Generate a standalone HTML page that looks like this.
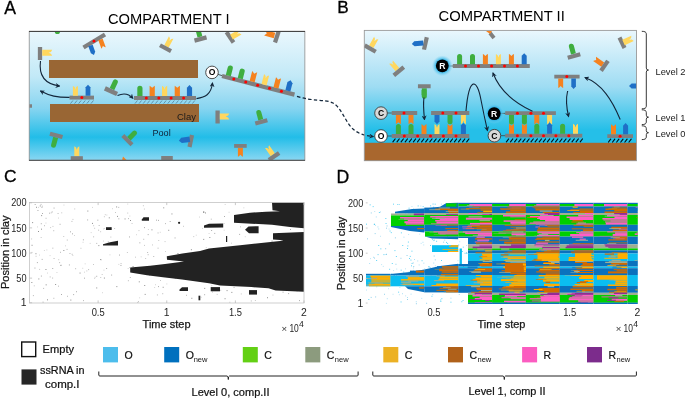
<!DOCTYPE html>
<html><head><meta charset="utf-8"><style>
html,body{margin:0;padding:0;background:#fff;width:685px;height:398px;overflow:hidden}
svg{display:block;will-change:transform}
text{font-family:"Liberation Sans", sans-serif}
</style></head><body>
<svg width="685" height="398" viewBox="0 0 685 398">
<defs>
<linearGradient id="gA" x1="0" y1="0" x2="0" y2="1">
<stop offset="0" stop-color="#eaf7fd"/>
<stop offset="0.35" stop-color="#c2e9f7"/>
<stop offset="0.6" stop-color="#86d4f0"/>
<stop offset="0.82" stop-color="#22bde8"/>
<stop offset="1" stop-color="#8ad7f2"/>
</linearGradient>
<linearGradient id="gB" x1="0" y1="0" x2="0" y2="1">
<stop offset="0" stop-color="#eaf7fd"/>
<stop offset="0.5" stop-color="#9edcf3"/>
<stop offset="0.88" stop-color="#25bfe8"/>
<stop offset="1" stop-color="#25bfe8"/>
</linearGradient>
<radialGradient id="glow">
<stop offset="0.55" stop-color="#1aa8e0" stop-opacity="1"/>
<stop offset="0.75" stop-color="#4cc0ec" stop-opacity="0.6"/>
<stop offset="1" stop-color="#7fd4f2" stop-opacity="0"/>
</radialGradient>
<marker id="ah" viewBox="0 0 10 10" refX="8" refY="5" markerWidth="5" markerHeight="5" orient="auto" markerUnits="userSpaceOnUse">
<path d="M0,0 L10,5 L0,10 L3,5 Z" fill="#13263a"/>
</marker>
</defs>
<text x="4.2" y="13.8" font-size="17.6" text-anchor="start" fill="#000" font-weight="normal" stroke="#000" stroke-width="0.3">A</text>
<text x="108" y="24" font-size="15.5" text-anchor="start" fill="#000" font-weight="normal" textLength="121.5" lengthAdjust="spacingAndGlyphs" >COMPARTMENT I</text>
<clipPath id="clipA"><rect x="29" y="31" width="276" height="129"/></clipPath>
<rect x="29" y="31" width="276" height="129.5" fill="url(#gA)"/>
<g clip-path="url(#clipA)">
<rect x="49" y="60" width="149" height="18" fill="#996634"/>
<rect x="50" y="104" width="149" height="18" fill="#996634"/>
<text x="177" y="120" font-size="9.3" text-anchor="start" fill="#1a1a1a" font-weight="normal" textLength="19" lengthAdjust="spacingAndGlyphs" >Clay</text>
<text x="152.5" y="135.6" font-size="9" text-anchor="start" fill="#0f2338" font-weight="normal" textLength="18.2" lengthAdjust="spacingAndGlyphs" >Pool</text>
<circle cx="57.4" cy="31.5" r="2.6" fill="#3fae3f"/>
<line x1="40.00" y1="47.00" x2="40.00" y2="60.00" stroke="#7f7f7f" stroke-width="4.3"/>
<path d="M-3.0,0 V-10 L-0.8999999999999999,-8.8 L0,-6.4 L0.8999999999999999,-8.8 L3.0,-10 V0 Z" fill="#ffd75e" transform="translate(42.20,52.80) rotate(90)"/>
<line x1="83.50" y1="47.50" x2="105.00" y2="34.50" stroke="#7f7f7f" stroke-width="4.2"/>
<path d="M-2.3,0 V-7.4 L0,-10 L2.3,-7.4 V0 Z" fill="#1f6fc6" transform="translate(90.50,45.50) rotate(160)"/>
<path d="M-2.3,0 V-9 L-1.38,-8.4 L0,-7.0 L1.38,-8.4 L2.3,-9 V0 Z" fill="#f5821f" transform="translate(100.50,39.50) rotate(160)"/>
<circle cx="94.00" cy="41.20" r="1.4" fill="#ff0000"/>
<path d="M-2.5,0 V-10 L-0.75,-8.8 L0,-6.4 L0.75,-8.8 L2.5,-10 V0 Z" fill="#ffd75e" transform="translate(166.49,46.35) rotate(28)"/><line x1="159.98" y1="45.27" x2="171.02" y2="51.13" stroke="#7f7f7f" stroke-width="4.2"/>
<path d="M-2.5,0 V-7.5 A2.5,2.5 0 0 1 2.5,-7.5 V0 Z" fill="#3fae3f" transform="translate(199.96,36.97) rotate(-15)"/><line x1="194.46" y1="40.62" x2="206.54" y2="37.38" stroke="#7f7f7f" stroke-width="4.2"/>
<line x1="226.50" y1="32.00" x2="233.50" y2="42.50" stroke="#7f7f7f" stroke-width="4.2"/>
<path d="M-2.75,0 V-10 L-0.825,-8.8 L0,-6.4 L0.825,-8.8 L2.75,-10 V0 Z" fill="#ffd75e" transform="translate(231.50,37.00) rotate(60)"/>
<line x1="278.60" y1="31.50" x2="275.00" y2="42.50" stroke="#7f7f7f" stroke-width="4.2"/>
<path d="M-2.75,0 V-10 L-1.65,-9.4 L0,-8.0 L1.65,-9.4 L2.75,-10 V0 Z" fill="#f5821f" transform="translate(274.50,35.50) rotate(-75)"/>
<path d="M-2.5,0 V-8.0 A2.5,2.5 0 0 1 2.5,-8.0 V0 Z" fill="#3fae3f" transform="translate(111.95,89.16) rotate(25)"/><line x1="104.88" y1="88.35" x2="117.12" y2="94.05" stroke="#7f7f7f" stroke-width="4.5"/>
<path d="M-2.5,0 V-8.0 A2.5,2.5 0 0 1 2.5,-8.0 V0 Z" fill="#3fae3f" transform="translate(55.66,137.43) rotate(195)"/><line x1="62.48" y1="137.08" x2="49.92" y2="133.72" stroke="#7f7f7f" stroke-width="4.2"/>
<path d="M-2.5,0 V-10 L-0.75,-8.8 L0,-6.4 L0.75,-8.8 L2.5,-10 V0 Z" fill="#ffd75e" transform="translate(76.80,156.20) rotate(0)"/><line x1="70.70" y1="158.20" x2="82.90" y2="158.20" stroke="#7f7f7f" stroke-width="4.0"/>
<path d="M-2.5,0 V-8.0 A2.5,2.5 0 0 1 2.5,-8.0 V0 Z" fill="#3fae3f" transform="translate(128.88,138.72) rotate(45)"/><line x1="122.80" y1="135.60" x2="132.00" y2="144.80" stroke="#7f7f7f" stroke-width="4.2"/>
<line x1="192.00" y1="135.00" x2="189.50" y2="147.00" stroke="#7f7f7f" stroke-width="4.2"/>
<path d="M-2.75,0 V-8.4 L0,-11 L2.75,-8.4 V0 Z" fill="#1f6fc6" transform="translate(189.80,139.20) rotate(-98)"/>
<line x1="161.20" y1="158.00" x2="172.80" y2="158.00" stroke="#7f7f7f" stroke-width="4.0"/>
<path d="M122,160.5 L123,156.5 L127,160.5 Z" fill="#f5821f"/>
<line x1="217.60" y1="110.50" x2="217.60" y2="123.50" stroke="#7f7f7f" stroke-width="4.3"/>
<path d="M-3.0,0 V-9.5 L-0.8999999999999999,-8.3 L0,-5.9 L0.8999999999999999,-8.3 L3.0,-9.5 V0 Z" fill="#ffd75e" transform="translate(219.80,116.50) rotate(90)"/>
<path d="M-2.5,0 V-7.5 A2.5,2.5 0 0 1 2.5,-7.5 V0 Z" fill="#3fae3f" transform="translate(260.76,119.77) rotate(-15)"/><line x1="255.26" y1="123.42" x2="267.34" y2="120.18" stroke="#7f7f7f" stroke-width="4.2"/>
<path d="M-2.5,0 V-9 L-1.5,-8.4 L0,-7.0 L1.5,-8.4 L2.5,-9 V0 Z" fill="#f5821f" transform="translate(240.40,147.80) rotate(180)"/><line x1="246.70" y1="145.90" x2="234.10" y2="145.90" stroke="#7f7f7f" stroke-width="3.8"/>
<path d="M-2.5,0 V-10 L-0.75,-8.8 L0,-6.4 L0.75,-8.8 L2.5,-10 V0 Z" fill="#ffd75e" transform="translate(272.80,154.78) rotate(-35)"/><line x1="268.88" y1="160.08" x2="279.12" y2="152.92" stroke="#7f7f7f" stroke-width="4.2"/>
<line x1="29.00" y1="106.00" x2="32.00" y2="106.00" stroke="#7f7f7f" stroke-width="3.5"/>
<line x1="69.50" y1="97.60" x2="94.00" y2="97.60" stroke="#7f7f7f" stroke-width="3.9"/>
<path d="M-2.5,0 V-9.8 L-0.75,-8.600000000000001 L0,-6.200000000000001 L0.75,-8.600000000000001 L2.5,-9.8 V0 Z" fill="#ffd75e" transform="translate(75.40,95.70) rotate(0)"/>
<path d="M-2.4,0 V-8.4 L0,-11 L2.4,-8.4 V0 Z" fill="#1f6fc6" transform="translate(88.00,95.70) rotate(0)"/>
<circle cx="81.80" cy="97.60" r="1.5" fill="#ff0000"/>
<path d="M70.70,103.30 L72.70,100.80 M74.80,103.30 L76.80,100.80 M78.90,103.30 L80.90,100.80 M83.00,103.30 L85.00,100.80 M87.10,103.30 L89.10,100.80 M91.20,103.30 L93.20,100.80" stroke="#2a3a4a" stroke-width="0.8" fill="none" opacity="0.55" stroke-linecap="round"/>
<line x1="134.00" y1="98.00" x2="196.00" y2="98.00" stroke="#7f7f7f" stroke-width="3.9"/>
<path d="M-2.6,0 V-7.700000000000001 A2.6,2.6 0 0 1 2.6,-7.700000000000001 V0 Z" fill="#3fae3f" transform="translate(139.90,96.10) rotate(0)"/>
<path d="M-2.6,0 V-10.3 L-1.56,-9.700000000000001 L0,-8.3 L1.56,-9.700000000000001 L2.6,-10.3 V0 Z" fill="#f5821f" transform="translate(152.20,96.10) rotate(0)"/>
<path d="M-2.6,0 V-10.3 L-0.78,-9.100000000000001 L0,-6.700000000000001 L0.78,-9.100000000000001 L2.6,-10.3 V0 Z" fill="#ffd75e" transform="translate(164.60,96.10) rotate(0)"/>
<path d="M-2.6,0 V-10.3 L-1.56,-9.700000000000001 L0,-8.3 L1.56,-9.700000000000001 L2.6,-10.3 V0 Z" fill="#f5821f" transform="translate(177.30,96.10) rotate(0)"/>
<path d="M-2.6,0 V-8.4 L0,-11 L2.6,-8.4 V0 Z" fill="#1f6fc6" transform="translate(189.50,96.10) rotate(0)"/>
<circle cx="146.30" cy="97.90" r="1.5" fill="#ff0000"/>
<circle cx="158.80" cy="97.90" r="1.5" fill="#ff0000"/>
<circle cx="171.10" cy="97.90" r="1.5" fill="#ff0000"/>
<circle cx="183.60" cy="97.90" r="1.5" fill="#ff0000"/>
<path d="M135.20,103.30 L137.20,100.80 M139.30,103.30 L141.30,100.80 M143.40,103.30 L145.40,100.80 M147.50,103.30 L149.50,100.80 M151.60,103.30 L153.60,100.80 M155.70,103.30 L157.70,100.80 M159.80,103.30 L161.80,100.80 M163.90,103.30 L165.90,100.80 M168.00,103.30 L170.00,100.80 M172.10,103.30 L174.10,100.80 M176.20,103.30 L178.20,100.80 M180.30,103.30 L182.30,100.80 M184.40,103.30 L186.40,100.80 M188.50,103.30 L190.50,100.80 M192.60,103.30 L194.60,100.80" stroke="#2a3a4a" stroke-width="0.8" fill="none" opacity="0.55" stroke-linecap="round"/>
<line x1="222.00" y1="76.00" x2="294.50" y2="94.60" stroke="#7f7f7f" stroke-width="4.2"/>
<path d="M-2.6,0 V-7.700000000000001 A2.6,2.6 0 0 1 2.6,-7.700000000000001 V0 Z" fill="#3fae3f" transform="translate(228.31,75.56) rotate(14.41010947985576)"/>
<path d="M-2.6,0 V-7.700000000000001 A2.6,2.6 0 0 1 2.6,-7.700000000000001 V0 Z" fill="#3fae3f" transform="translate(240.22,78.62) rotate(14.41010947985576)"/>
<path d="M-2.6,0 V-10.3 L-1.56,-9.700000000000001 L0,-8.3 L1.56,-9.700000000000001 L2.6,-10.3 V0 Z" fill="#f5821f" transform="translate(252.14,81.68) rotate(14.41010947985576)"/>
<path d="M-2.6,0 V-10.3 L-0.78,-9.100000000000001 L0,-6.700000000000001 L0.78,-9.100000000000001 L2.6,-10.3 V0 Z" fill="#ffd75e" transform="translate(264.05,84.74) rotate(14.41010947985576)"/>
<path d="M-2.6,0 V-10.3 L-1.56,-9.700000000000001 L0,-8.3 L1.56,-9.700000000000001 L2.6,-10.3 V0 Z" fill="#f5821f" transform="translate(275.96,87.80) rotate(14.41010947985576)"/>
<path d="M-2.6,0 V-8.4 L0,-11 L2.6,-8.4 V0 Z" fill="#1f6fc6" transform="translate(287.87,90.86) rotate(14.41010947985576)"/>
<circle cx="233.82" cy="79.04" r="1.5" fill="#ff0000"/>
<circle cx="245.73" cy="82.10" r="1.5" fill="#ff0000"/>
<circle cx="257.64" cy="85.16" r="1.5" fill="#ff0000"/>
<circle cx="269.56" cy="88.22" r="1.5" fill="#ff0000"/>
<circle cx="281.47" cy="91.28" r="1.5" fill="#ff0000"/>
<path d="M40.5,61 C38.5,76 45,84 59.5,86" fill="none" stroke="#13263a" stroke-width="1.1" marker-end="url(#ah)"/>
<path d="M69.5,97.4 C57,97.5 50,96 40.5,91" fill="none" stroke="#13263a" stroke-width="1.1" marker-end="url(#ah)"/>
<path d="M117.5,95.6 C123,93 128.5,93.5 132.8,98.2" fill="none" stroke="#13263a" stroke-width="1.1" marker-end="url(#ah)"/>
<path d="M196.5,98.6 C205,97 211,95 212.5,83" fill="none" stroke="#13263a" stroke-width="1.1" marker-end="url(#ah)"/>
<line x1="218" y1="74.4" x2="222" y2="75.6" stroke="#333" stroke-width="0.8"/>
</g>
<circle cx="212" cy="72.4" r="6.3" fill="#fff" stroke="#3a3a3a" stroke-width="0.9"/><text x="212" y="75.4" font-size="8.6" text-anchor="middle" fill="#000" font-weight="bold" >O</text>
<rect x="29.25" y="31.4" width="275.6" height="128.9" fill="none" stroke="#9a9a9a" stroke-width="0.9"/>
<line x1="29" y1="31.4" x2="305" y2="31.4" stroke="#3a3a3a" stroke-width="1"/>
<line x1="29" y1="160.3" x2="305" y2="160.3" stroke="#4a4a4a" stroke-width="1"/>
<text x="337.2" y="13.2" font-size="17.2" text-anchor="start" fill="#000" font-weight="normal" stroke="#000" stroke-width="0.3">B</text>
<text x="438.5" y="21.3" font-size="15.5" text-anchor="start" fill="#000" font-weight="normal" textLength="126.3" lengthAdjust="spacingAndGlyphs" >COMPARTMENT II</text>
<clipPath id="clipB"><rect x="364" y="30.5" width="272.5" height="130.5"/></clipPath>
<rect x="364.3" y="30.5" width="272.2" height="113" fill="url(#gB)"/>
<rect x="364.3" y="142.8" width="272.2" height="18.2" fill="#a9672e"/>
<g clip-path="url(#clipB)">
<path d="M-2.5,0 V-10 L-0.75,-8.8 L0,-6.4 L0.75,-8.8 L2.5,-10 V0 Z" fill="#ffd75e" transform="translate(371.25,46.78) rotate(30)"/><line x1="364.66" y1="45.40" x2="375.74" y2="51.80" stroke="#7f7f7f" stroke-width="4.2"/>
<line x1="426.80" y1="37.30" x2="424.00" y2="49.60" stroke="#7f7f7f" stroke-width="4.2"/>
<path d="M-2.6,0 V-8.9 L0,-11.5 L2.6,-8.9 V0 Z" fill="#1f6fc6" transform="translate(423.30,43.00) rotate(-95)"/>
<path d="M-2.5,0 V-10 L-0.75,-8.8 L0,-6.4 L0.75,-8.8 L2.5,-10 V0 Z" fill="#ffd75e" transform="translate(397.45,69.69) rotate(-40)"/><line x1="393.82" y1="75.48" x2="403.78" y2="67.12" stroke="#7f7f7f" stroke-width="4.2"/>
<path d="M-2.5,0 V-8.0 A2.5,2.5 0 0 1 2.5,-8.0 V0 Z" fill="#3fae3f" transform="translate(424.30,88.20) rotate(180)"/><line x1="430.65" y1="86.20" x2="417.95" y2="86.20" stroke="#7f7f7f" stroke-width="4.0"/>
<path d="M-2.5,0 V-8.0 A2.5,2.5 0 0 1 2.5,-8.0 V0 Z" fill="#3fae3f" transform="translate(573.46,53.97) rotate(-15)"/><line x1="567.72" y1="57.68" x2="580.28" y2="54.32" stroke="#7f7f7f" stroke-width="4.2"/>
<path d="M-2.5,0 V-10 L-1.5,-9.4 L0,-8.0 L1.5,-9.4 L2.5,-10 V0 Z" fill="#f5821f" transform="translate(602.78,64.60) rotate(-55)"/><line x1="601.06" y1="70.71" x2="607.94" y2="60.89" stroke="#7f7f7f" stroke-width="4.2"/>
<line x1="619.50" y1="37.50" x2="624.50" y2="48.00" stroke="#7f7f7f" stroke-width="4.2"/>
<path d="M-2.9,0 V-10 L-0.87,-8.8 L0,-6.4 L0.87,-8.8 L2.9,-10 V0 Z" fill="#ffd75e" transform="translate(623.50,42.50) rotate(65)"/>
<path d="M-2.5,0 V-5.4 L0,-8 L2.5,-5.4 V0 Z" fill="#1f6fc6" transform="translate(637.00,86.00) rotate(-90)"/>
<line x1="490.00" y1="33.00" x2="494.00" y2="38.00" stroke="#7f7f7f" stroke-width="3.8"/>
<path d="M486,31 L492,31 L490,34 Z" fill="#f5821f"/>
<line x1="452.80" y1="66.00" x2="529.80" y2="66.00" stroke="#7f7f7f" stroke-width="3.8"/>
<path d="M-2.5,0 V-7.699999999999999 A2.5,2.5 0 0 1 2.5,-7.699999999999999 V0 Z" fill="#3fae3f" transform="translate(459.60,64.20) rotate(0)"/>
<path d="M-2.5,0 V-7.699999999999999 A2.5,2.5 0 0 1 2.5,-7.699999999999999 V0 Z" fill="#3fae3f" transform="translate(472.50,64.20) rotate(0)"/>
<path d="M-2.5,0 V-10.2 L-1.5,-9.6 L0,-8.2 L1.5,-9.6 L2.5,-10.2 V0 Z" fill="#f5821f" transform="translate(485.40,64.20) rotate(0)"/>
<path d="M-2.5,0 V-10.2 L-0.75,-9.0 L0,-6.6 L0.75,-9.0 L2.5,-10.2 V0 Z" fill="#ffd75e" transform="translate(498.40,64.20) rotate(0)"/>
<path d="M-2.5,0 V-10.2 L-1.5,-9.6 L0,-8.2 L1.5,-9.6 L2.5,-10.2 V0 Z" fill="#f5821f" transform="translate(511.40,64.20) rotate(0)"/>
<path d="M-2.5,0 V-8.4 L0,-11 L2.5,-8.4 V0 Z" fill="#1f6fc6" transform="translate(524.20,64.20) rotate(0)"/>
<circle cx="465.50" cy="65.90" r="1.5" fill="#ff0000"/>
<circle cx="478.50" cy="65.90" r="1.5" fill="#ff0000"/>
<circle cx="491.60" cy="65.90" r="1.5" fill="#ff0000"/>
<circle cx="504.50" cy="65.90" r="1.5" fill="#ff0000"/>
<circle cx="517.40" cy="65.90" r="1.5" fill="#ff0000"/>
<line x1="448" y1="66" x2="453" y2="66" stroke="#555" stroke-width="0.8"/>
<line x1="554.30" y1="76.60" x2="579.60" y2="76.60" stroke="#7f7f7f" stroke-width="3.9"/>
<path d="M-2.45,0 V-9.5 L-1.47,-8.9 L0,-7.5 L1.47,-8.9 L2.45,-9.5 V0 Z" fill="#f5821f" transform="translate(560.70,78.50) rotate(180)"/>
<path d="M-2.3,0 V-7.9 L0,-10.5 L2.3,-7.9 V0 Z" fill="#1f6fc6" transform="translate(573.60,78.50) rotate(180)"/>
<circle cx="566.80" cy="76.50" r="1.5" fill="#ff0000"/>
<line x1="391.70" y1="113.00" x2="417.20" y2="113.00" stroke="#7f7f7f" stroke-width="3.8"/>
<line x1="431.10" y1="113.00" x2="469.30" y2="113.00" stroke="#7f7f7f" stroke-width="3.8"/>
<line x1="391.70" y1="136.00" x2="469.30" y2="136.00" stroke="#7f7f7f" stroke-width="3.8"/>
<line x1="505.20" y1="113.20" x2="555.90" y2="113.20" stroke="#7f7f7f" stroke-width="3.8"/>
<line x1="505.20" y1="135.70" x2="582.30" y2="135.70" stroke="#7f7f7f" stroke-width="3.8"/>
<line x1="607.30" y1="136.20" x2="633.00" y2="136.20" stroke="#7f7f7f" stroke-width="3.8"/>
<circle cx="404.00" cy="113.00" r="1.5" fill="#ff0000"/>
<circle cx="442.80" cy="113.00" r="1.5" fill="#ff0000"/>
<circle cx="456.00" cy="113.00" r="1.5" fill="#ff0000"/>
<circle cx="404.30" cy="136.00" r="1.5" fill="#ff0000"/>
<circle cx="417.60" cy="136.00" r="1.5" fill="#ff0000"/>
<circle cx="430.50" cy="136.00" r="1.5" fill="#ff0000"/>
<circle cx="443.40" cy="136.00" r="1.5" fill="#ff0000"/>
<circle cx="456.00" cy="136.00" r="1.5" fill="#ff0000"/>
<circle cx="517.40" cy="113.20" r="1.5" fill="#ff0000"/>
<circle cx="530.90" cy="113.20" r="1.5" fill="#ff0000"/>
<circle cx="543.50" cy="113.20" r="1.5" fill="#ff0000"/>
<circle cx="517.40" cy="135.70" r="1.5" fill="#ff0000"/>
<circle cx="530.90" cy="135.70" r="1.5" fill="#ff0000"/>
<circle cx="543.50" cy="135.70" r="1.5" fill="#ff0000"/>
<circle cx="555.90" cy="135.70" r="1.5" fill="#ff0000"/>
<circle cx="568.80" cy="135.70" r="1.5" fill="#ff0000"/>
<circle cx="620.10" cy="136.20" r="1.5" fill="#ff0000"/>
<path d="M392.90,141.80 L395.10,139.00 M397.00,141.80 L399.20,139.00 M401.10,141.80 L403.30,139.00 M405.20,141.80 L407.40,139.00 M409.30,141.80 L411.50,139.00 M413.40,141.80 L415.60,139.00 M417.50,141.80 L419.70,139.00 M421.60,141.80 L423.80,139.00 M425.70,141.80 L427.90,139.00 M429.80,141.80 L432.00,139.00 M433.90,141.80 L436.10,139.00 M438.00,141.80 L440.20,139.00 M442.10,141.80 L444.30,139.00 M446.20,141.80 L448.40,139.00 M450.30,141.80 L452.50,139.00 M454.40,141.80 L456.60,139.00 M458.50,141.80 L460.70,139.00 M462.60,141.80 L464.80,139.00 M466.70,141.80 L468.90,139.00" stroke="#000" stroke-width="1.2" fill="none" opacity="0.9" stroke-linecap="round"/>
<path d="M506.40,141.80 L508.60,139.00 M510.50,141.80 L512.70,139.00 M514.60,141.80 L516.80,139.00 M518.70,141.80 L520.90,139.00 M522.80,141.80 L525.00,139.00 M526.90,141.80 L529.10,139.00 M531.00,141.80 L533.20,139.00 M535.10,141.80 L537.30,139.00 M539.20,141.80 L541.40,139.00 M543.30,141.80 L545.50,139.00 M547.40,141.80 L549.60,139.00 M551.50,141.80 L553.70,139.00 M555.60,141.80 L557.80,139.00 M559.70,141.80 L561.90,139.00 M563.80,141.80 L566.00,139.00 M567.90,141.80 L570.10,139.00 M572.00,141.80 L574.20,139.00 M576.10,141.80 L578.30,139.00 M580.20,141.80 L582.40,139.00" stroke="#000" stroke-width="1.2" fill="none" opacity="0.9" stroke-linecap="round"/>
<path d="M608.50,142.00 L610.70,139.20 M612.60,142.00 L614.80,139.20 M616.70,142.00 L618.90,139.20 M620.80,142.00 L623.00,139.20 M624.90,142.00 L627.10,139.20 M629.00,142.00 L631.20,139.20" stroke="#000" stroke-width="1.2" fill="none" opacity="0.9" stroke-linecap="round"/>
<path d="M-2.5,0 V-9.3 L-1.5,-8.700000000000001 L0,-7.300000000000001 L1.5,-8.700000000000001 L2.5,-9.3 V0 Z" fill="#f5821f" transform="translate(398.40,114.90) rotate(180)"/><path d="M-2.5,0 V-7.5 A2.5,2.5 0 0 1 2.5,-7.5 V0 Z" fill="#3fae3f" transform="translate(398.40,134.10) rotate(0)"/>
<path d="M-2.5,0 V-9.3 L-1.5,-8.700000000000001 L0,-7.300000000000001 L1.5,-8.700000000000001 L2.5,-9.3 V0 Z" fill="#f5821f" transform="translate(411.00,114.90) rotate(180)"/><path d="M-2.5,0 V-7.5 A2.5,2.5 0 0 1 2.5,-7.5 V0 Z" fill="#3fae3f" transform="translate(411.00,134.10) rotate(0)"/>
<path d="M-2.5,0 V-10 L-1.5,-9.4 L0,-8.0 L1.5,-9.4 L2.5,-10 V0 Z" fill="#f5821f" transform="translate(424.00,134.10) rotate(0)"/>
<path d="M-2.5,0 V-6.700000000000001 L0,-9.3 L2.5,-6.700000000000001 V0 Z" fill="#1f6fc6" transform="translate(437.00,114.90) rotate(180)"/><path d="M-2.5,0 V-10 L-0.75,-8.8 L0,-6.4 L0.75,-8.8 L2.5,-10 V0 Z" fill="#ffd75e" transform="translate(437.00,134.10) rotate(0)"/>
<path d="M-2.5,0 V-6.800000000000001 A2.5,2.5 0 0 1 2.5,-6.800000000000001 V0 Z" fill="#3fae3f" transform="translate(450.00,114.90) rotate(180)"/><path d="M-2.5,0 V-10 L-1.5,-9.4 L0,-8.0 L1.5,-9.4 L2.5,-10 V0 Z" fill="#f5821f" transform="translate(450.00,134.10) rotate(0)"/>
<path d="M-2.5,0 V-9.3 L-0.75,-8.100000000000001 L0,-5.700000000000001 L0.75,-8.100000000000001 L2.5,-9.3 V0 Z" fill="#ffd75e" transform="translate(463.40,114.90) rotate(180)"/><path d="M-2.5,0 V-8.6 L0,-11.2 L2.5,-8.6 V0 Z" fill="#1f6fc6" transform="translate(463.40,134.10) rotate(0)"/>
<path d="M-2.5,0 V-6.800000000000001 A2.5,2.5 0 0 1 2.5,-6.800000000000001 V0 Z" fill="#3fae3f" transform="translate(511.50,115.10) rotate(180)"/><path d="M-2.5,0 V-10 L-1.5,-9.4 L0,-8.0 L1.5,-9.4 L2.5,-10 V0 Z" fill="#f5821f" transform="translate(511.50,133.80) rotate(0)"/>
<path d="M-2.5,0 V-6.800000000000001 A2.5,2.5 0 0 1 2.5,-6.800000000000001 V0 Z" fill="#3fae3f" transform="translate(524.40,115.10) rotate(180)"/><path d="M-2.5,0 V-10 L-1.5,-9.4 L0,-8.0 L1.5,-9.4 L2.5,-10 V0 Z" fill="#f5821f" transform="translate(524.40,133.80) rotate(0)"/>
<path d="M-2.5,0 V-9.3 L-1.5,-8.700000000000001 L0,-7.300000000000001 L1.5,-8.700000000000001 L2.5,-9.3 V0 Z" fill="#f5821f" transform="translate(536.80,115.10) rotate(180)"/><path d="M-2.5,0 V-7.5 A2.5,2.5 0 0 1 2.5,-7.5 V0 Z" fill="#3fae3f" transform="translate(536.80,133.80) rotate(0)"/>
<path d="M-2.5,0 V-9.3 L-0.75,-8.100000000000001 L0,-5.700000000000001 L0.75,-8.100000000000001 L2.5,-9.3 V0 Z" fill="#ffd75e" transform="translate(549.60,115.10) rotate(180)"/><path d="M-2.5,0 V-8.6 L0,-11.2 L2.5,-8.6 V0 Z" fill="#1f6fc6" transform="translate(549.60,133.80) rotate(0)"/>
<path d="M-2.5,0 V-7.5 A2.5,2.5 0 0 1 2.5,-7.5 V0 Z" fill="#3fae3f" transform="translate(562.60,133.80) rotate(0)"/>
<path d="M-2.5,0 V-10 L-0.75,-8.8 L0,-6.4 L0.75,-8.8 L2.5,-10 V0 Z" fill="#ffd75e" transform="translate(575.50,133.80) rotate(0)"/>
<path d="M-2.5,0 V-10 L-1.5,-9.4 L0,-8.0 L1.5,-9.4 L2.5,-10 V0 Z" fill="#f5821f" transform="translate(613.50,134.30) rotate(0)"/>
<path d="M-2.5,0 V-8.6 L0,-11.2 L2.5,-8.6 V0 Z" fill="#1f6fc6" transform="translate(625.60,134.30) rotate(0)"/>
<path d="M421.6,90 V94.5 A2.4,2.4 0 0 0 426.4,94.5 V90 Z" fill="#3fae3f"/>
<path d="M424,97.5 C423,104 423.5,110 424.5,119.5" fill="none" stroke="#13263a" stroke-width="1.1" marker-end="url(#ah)"/>
<path d="M466,111 C469,76 477,78 481,100 C483,110 485,120 487.5,130.5" fill="none" stroke="#13263a" stroke-width="1.1" marker-end="url(#ah)"/>
<path d="M532.5,111.2 C515,103 500,92 493,73" fill="none" stroke="#13263a" stroke-width="1.1" marker-end="url(#ah)"/>
<path d="M567.6,91 C565.5,100 566.5,108 568.6,116.5" fill="none" stroke="#13263a" stroke-width="1.1" marker-end="url(#ah)"/>
<path d="M620.2,119.5 C612,100 602,84 585,77.6" fill="none" stroke="#13263a" stroke-width="1.1" marker-end="url(#ah)"/>
<line x1="567.6" y1="91" x2="567.6" y2="92" stroke="#13263a" stroke-width="1"/>
<line x1="387" y1="113" x2="391.7" y2="113" stroke="#444" stroke-width="0.8"/>
<line x1="387" y1="136" x2="391.7" y2="136" stroke="#444" stroke-width="0.8"/>
<line x1="500.5" y1="113.4" x2="505.2" y2="113.4" stroke="#444" stroke-width="0.8"/>
<line x1="500.5" y1="135.7" x2="505.2" y2="135.7" stroke="#444" stroke-width="0.8"/>
</g>
<path d="M297,96.3 C312,101.5 325,99 333,103 C342,108 345,122 353,129 C358,133.5 364,135.5 373.2,136.6" fill="none" stroke="#13263a" stroke-width="1.25" stroke-dasharray="3.4,2.3" marker-end="url(#ah)"/>
<circle cx="442.3" cy="65.8" r="10.5" fill="url(#glow)"/><circle cx="442.3" cy="65.8" r="6.4" fill="#000"/><text x="442.3" y="68.8" font-size="8.6" text-anchor="middle" fill="#fff" font-weight="bold" >R</text>
<circle cx="381" cy="113.1" r="6.3" fill="#d9d9d9" stroke="#3a3a3a" stroke-width="0.9"/><text x="381" y="116.1" font-size="8.6" text-anchor="middle" fill="#000" font-weight="bold" >C</text>
<circle cx="381" cy="136" r="6.3" fill="#fff" stroke="#3a3a3a" stroke-width="0.9"/><text x="381" y="139.0" font-size="8.6" text-anchor="middle" fill="#000" font-weight="bold" >O</text>
<circle cx="494.2" cy="113.6" r="10.5" fill="url(#glow)"/><circle cx="494.2" cy="113.6" r="6.4" fill="#000"/><text x="494.2" y="116.6" font-size="8.6" text-anchor="middle" fill="#fff" font-weight="bold" >R</text>
<circle cx="494.4" cy="135.7" r="6.3" fill="#d9d9d9" stroke="#3a3a3a" stroke-width="0.9"/><text x="494.4" y="138.7" font-size="8.6" text-anchor="middle" fill="#000" font-weight="bold" >C</text>
<rect x="364.3" y="30.4" width="272.2" height="130.3" fill="none" stroke="#9a9a9a" stroke-width="0.9"/>
<path d="M641.8,31.3 Q646.3,31.3 646.3,33.8 L646.3,68.05 Q646.3,70.05 648.5,70.05 Q646.3,70.05 646.3,72.05 L646.3,106.3 Q646.3,108.8 641.8,108.8" fill="none" stroke="#222" stroke-width="0.9"/>
<path d="M641.8,109.8 Q646.3,109.8 646.3,112.3 L646.3,115.19999999999999 Q646.3,117.19999999999999 648.5,117.19999999999999 Q646.3,117.19999999999999 646.3,119.19999999999999 L646.3,122.1 Q646.3,124.6 641.8,124.6" fill="none" stroke="#222" stroke-width="0.9"/>
<path d="M641.8,125.8 Q646.3,125.8 646.3,128.3 L646.3,130.7 Q646.3,132.7 648.5,132.7 Q646.3,132.7 646.3,134.7 L646.3,137.1 Q646.3,139.6 641.8,139.6" fill="none" stroke="#222" stroke-width="0.9"/>
<text x="655.5" y="74.8" font-size="9.5" text-anchor="start" fill="#222" font-weight="normal" textLength="30" lengthAdjust="spacingAndGlyphs" >Level 2</text>
<text x="655.5" y="121" font-size="9.5" text-anchor="start" fill="#222" font-weight="normal" textLength="30" lengthAdjust="spacingAndGlyphs" >Level 1</text>
<text x="655.5" y="137" font-size="9.5" text-anchor="start" fill="#222" font-weight="normal" textLength="30" lengthAdjust="spacingAndGlyphs" >Level 0</text>
<text x="4.0" y="182.3" font-size="17.4" text-anchor="start" fill="#000" font-weight="normal" stroke="#000" stroke-width="0.3">C</text>
<rect x="118.4" y="218.4" width="0.9" height="0.9" fill="#999"/><rect x="144.0" y="227.2" width="0.9" height="0.9" fill="#999"/><rect x="200.8" y="296.8" width="0.9" height="0.9" fill="#ccc"/><rect x="44.0" y="225.3" width="0.9" height="0.9" fill="#aaa"/><rect x="86.4" y="270.5" width="0.9" height="0.9" fill="#bbb"/><rect x="156.9" y="294.5" width="0.9" height="0.9" fill="#aaa"/><rect x="186.5" y="255.2" width="0.9" height="0.9" fill="#ccc"/><rect x="163.3" y="207.4" width="0.9" height="0.9" fill="#777"/><rect x="219.3" y="262.0" width="0.9" height="0.9" fill="#ccc"/><rect x="49.2" y="212.7" width="0.9" height="0.9" fill="#999"/><rect x="47.0" y="272.6" width="0.9" height="0.9" fill="#ccc"/><rect x="107.8" y="241.5" width="0.9" height="0.9" fill="#999"/><rect x="231.0" y="242.7" width="0.9" height="0.9" fill="#ccc"/><rect x="52.4" y="247.7" width="0.9" height="0.9" fill="#aaa"/><rect x="143.3" y="238.8" width="0.9" height="0.9" fill="#aaa"/><rect x="71.5" y="220.9" width="0.9" height="0.9" fill="#aaa"/><rect x="33.8" y="285.4" width="0.9" height="0.9" fill="#bbb"/><rect x="31.6" y="244.8" width="0.9" height="0.9" fill="#777"/><rect x="117.0" y="215.9" width="0.9" height="0.9" fill="#777"/><rect x="267.0" y="297.3" width="0.9" height="0.9" fill="#777"/><rect x="87.2" y="219.5" width="0.9" height="0.9" fill="#999"/><rect x="58.3" y="259.3" width="0.9" height="0.9" fill="#bbb"/><rect x="132.6" y="266.0" width="0.9" height="0.9" fill="#777"/><rect x="129.4" y="215.6" width="0.9" height="0.9" fill="#ccc"/><rect x="205.1" y="212.5" width="0.9" height="0.9" fill="#777"/><rect x="130.1" y="220.0" width="0.9" height="0.9" fill="#777"/><rect x="177.5" y="253.0" width="0.9" height="0.9" fill="#777"/><rect x="250.8" y="300.5" width="0.9" height="0.9" fill="#aaa"/><rect x="38.1" y="231.0" width="0.9" height="0.9" fill="#777"/><rect x="290.2" y="247.6" width="0.9" height="0.9" fill="#bbb"/><rect x="92.1" y="222.9" width="0.9" height="0.9" fill="#777"/><rect x="223.7" y="223.1" width="0.9" height="0.9" fill="#ccc"/><rect x="244.8" y="236.3" width="0.9" height="0.9" fill="#ccc"/><rect x="190.9" y="249.3" width="0.9" height="0.9" fill="#777"/><rect x="254.9" y="300.1" width="0.9" height="0.9" fill="#bbb"/><rect x="234.0" y="217.2" width="0.9" height="0.9" fill="#aaa"/><rect x="110.0" y="227.2" width="0.9" height="0.9" fill="#bbb"/><rect x="231.4" y="291.9" width="0.9" height="0.9" fill="#777"/><rect x="144.7" y="293.9" width="0.9" height="0.9" fill="#777"/><rect x="71.7" y="253.8" width="0.9" height="0.9" fill="#aaa"/><rect x="68.9" y="264.5" width="0.9" height="0.9" fill="#999"/><rect x="119.0" y="254.6" width="0.9" height="0.9" fill="#999"/><rect x="42.0" y="213.1" width="0.9" height="0.9" fill="#999"/><rect x="196.8" y="253.3" width="0.9" height="0.9" fill="#bbb"/><rect x="153.3" y="256.0" width="0.9" height="0.9" fill="#aaa"/><rect x="220.3" y="289.8" width="0.9" height="0.9" fill="#bbb"/><rect x="152.0" y="244.5" width="0.9" height="0.9" fill="#bbb"/><rect x="50.2" y="227.2" width="0.9" height="0.9" fill="#bbb"/><rect x="147.7" y="254.3" width="0.9" height="0.9" fill="#aaa"/><rect x="127.3" y="212.6" width="0.9" height="0.9" fill="#bbb"/><rect x="120.5" y="265.0" width="0.9" height="0.9" fill="#999"/><rect x="61.1" y="294.0" width="0.9" height="0.9" fill="#999"/><rect x="53.3" y="230.3" width="0.9" height="0.9" fill="#aaa"/><rect x="103.9" y="216.3" width="0.9" height="0.9" fill="#bbb"/><rect x="140.7" y="256.4" width="0.9" height="0.9" fill="#ccc"/><rect x="285.3" y="266.0" width="0.9" height="0.9" fill="#999"/><rect x="63.5" y="204.6" width="0.9" height="0.9" fill="#ccc"/><rect x="74.3" y="208.5" width="0.9" height="0.9" fill="#bbb"/><rect x="35.5" y="253.3" width="0.9" height="0.9" fill="#777"/><rect x="256.5" y="273.1" width="0.9" height="0.9" fill="#ccc"/><rect x="299.1" y="300.2" width="0.9" height="0.9" fill="#999"/><rect x="49.7" y="276.5" width="0.9" height="0.9" fill="#aaa"/><rect x="45.5" y="269.0" width="0.9" height="0.9" fill="#777"/><rect x="151.5" y="229.4" width="0.9" height="0.9" fill="#777"/><rect x="118.3" y="206.9" width="0.9" height="0.9" fill="#aaa"/><rect x="127.3" y="203.6" width="0.9" height="0.9" fill="#ccc"/><rect x="106.2" y="268.1" width="0.9" height="0.9" fill="#999"/><rect x="55.2" y="284.0" width="0.9" height="0.9" fill="#777"/><rect x="41.8" y="205.7" width="0.9" height="0.9" fill="#aaa"/><rect x="53.4" y="297.8" width="0.9" height="0.9" fill="#aaa"/><rect x="209.0" y="274.0" width="0.9" height="0.9" fill="#ccc"/><rect x="147.0" y="272.6" width="0.9" height="0.9" fill="#777"/><rect x="234.9" y="259.5" width="0.9" height="0.9" fill="#999"/><rect x="254.9" y="261.0" width="0.9" height="0.9" fill="#aaa"/><rect x="53.6" y="207.6" width="0.9" height="0.9" fill="#999"/><rect x="35.6" y="255.8" width="0.9" height="0.9" fill="#bbb"/><rect x="31.4" y="282.1" width="0.9" height="0.9" fill="#777"/><rect x="233.0" y="250.2" width="0.9" height="0.9" fill="#bbb"/><rect x="94.2" y="278.0" width="0.9" height="0.9" fill="#ccc"/><rect x="164.6" y="241.2" width="0.9" height="0.9" fill="#bbb"/><rect x="238.7" y="264.3" width="0.9" height="0.9" fill="#999"/><rect x="193.3" y="236.2" width="0.9" height="0.9" fill="#bbb"/><rect x="199.1" y="216.6" width="0.9" height="0.9" fill="#ccc"/><rect x="103.5" y="269.7" width="0.9" height="0.9" fill="#ccc"/><rect x="109.5" y="254.4" width="0.9" height="0.9" fill="#ccc"/><rect x="115.1" y="212.0" width="0.9" height="0.9" fill="#bbb"/><rect x="155.1" y="284.3" width="0.9" height="0.9" fill="#ccc"/><rect x="300.4" y="241.6" width="0.9" height="0.9" fill="#aaa"/><rect x="50.8" y="212.4" width="0.9" height="0.9" fill="#bbb"/><rect x="289.2" y="216.6" width="0.9" height="0.9" fill="#777"/><rect x="106.4" y="214.6" width="0.9" height="0.9" fill="#ccc"/><rect x="31.5" y="251.9" width="0.9" height="0.9" fill="#bbb"/><rect x="63.3" y="236.1" width="0.9" height="0.9" fill="#bbb"/><rect x="258.3" y="215.3" width="0.9" height="0.9" fill="#999"/><rect x="137.2" y="301.9" width="0.9" height="0.9" fill="#bbb"/><rect x="281.8" y="277.9" width="0.9" height="0.9" fill="#bbb"/><rect x="58.1" y="285.7" width="0.9" height="0.9" fill="#aaa"/><rect x="98.2" y="229.7" width="0.9" height="0.9" fill="#aaa"/><rect x="38.4" y="278.5" width="0.9" height="0.9" fill="#777"/><rect x="229.3" y="247.9" width="0.9" height="0.9" fill="#bbb"/><rect x="162.3" y="293.3" width="0.9" height="0.9" fill="#aaa"/><rect x="208.6" y="233.1" width="0.9" height="0.9" fill="#ccc"/><rect x="166.4" y="283.5" width="0.9" height="0.9" fill="#ccc"/><rect x="100.6" y="259.6" width="0.9" height="0.9" fill="#ccc"/><rect x="103.9" y="277.6" width="0.9" height="0.9" fill="#777"/><rect x="104.1" y="228.0" width="0.9" height="0.9" fill="#ccc"/><rect x="147.7" y="234.2" width="0.9" height="0.9" fill="#999"/><rect x="65.0" y="245.4" width="0.9" height="0.9" fill="#ccc"/><rect x="157.6" y="247.7" width="0.9" height="0.9" fill="#aaa"/><rect x="72.4" y="255.0" width="0.9" height="0.9" fill="#ccc"/><rect x="224.6" y="298.3" width="0.9" height="0.9" fill="#777"/><rect x="49.6" y="255.2" width="0.9" height="0.9" fill="#ccc"/><rect x="116.4" y="286.2" width="0.9" height="0.9" fill="#777"/><rect x="94.2" y="227.8" width="0.9" height="0.9" fill="#bbb"/><rect x="45.5" y="222.6" width="0.9" height="0.9" fill="#ccc"/><rect x="52.5" y="225.9" width="0.9" height="0.9" fill="#bbb"/><rect x="92.1" y="206.9" width="0.9" height="0.9" fill="#ccc"/><rect x="165.1" y="223.2" width="0.9" height="0.9" fill="#aaa"/><rect x="93.2" y="225.3" width="0.9" height="0.9" fill="#bbb"/><rect x="60.1" y="264.9" width="0.9" height="0.9" fill="#aaa"/><rect x="36.9" y="262.2" width="0.9" height="0.9" fill="#999"/><rect x="80.5" y="247.8" width="0.9" height="0.9" fill="#bbb"/><rect x="229.4" y="301.8" width="0.9" height="0.9" fill="#bbb"/><rect x="82.3" y="267.8" width="0.9" height="0.9" fill="#ccc"/><rect x="39.2" y="268.9" width="0.9" height="0.9" fill="#bbb"/><rect x="51.7" y="211.5" width="0.9" height="0.9" fill="#999"/><rect x="239.2" y="233.9" width="0.9" height="0.9" fill="#999"/><rect x="43.9" y="250.1" width="0.9" height="0.9" fill="#ccc"/><rect x="82.9" y="239.4" width="0.9" height="0.9" fill="#999"/><rect x="202.0" y="227.9" width="0.9" height="0.9" fill="#ccc"/><rect x="41.5" y="206.9" width="0.9" height="0.9" fill="#999"/><rect x="100.3" y="277.1" width="0.9" height="0.9" fill="#bbb"/><rect x="129.0" y="236.5" width="0.9" height="0.9" fill="#999"/><rect x="101.7" y="274.1" width="0.9" height="0.9" fill="#bbb"/><rect x="111.2" y="274.6" width="0.9" height="0.9" fill="#999"/><rect x="37.1" y="226.5" width="0.9" height="0.9" fill="#ccc"/><rect x="147.2" y="252.1" width="0.9" height="0.9" fill="#aaa"/><rect x="32.9" y="295.2" width="0.9" height="0.9" fill="#aaa"/><rect x="84.1" y="277.7" width="0.9" height="0.9" fill="#999"/><rect x="206.9" y="250.9" width="0.9" height="0.9" fill="#aaa"/><rect x="296.6" y="290.5" width="0.9" height="0.9" fill="#bbb"/><rect x="66.6" y="248.9" width="0.9" height="0.9" fill="#aaa"/><rect x="233.6" y="286.9" width="0.9" height="0.9" fill="#999"/><rect x="103.2" y="228.5" width="0.9" height="0.9" fill="#ccc"/><rect x="138.0" y="301.3" width="0.9" height="0.9" fill="#aaa"/><rect x="40.6" y="203.9" width="0.9" height="0.9" fill="#aaa"/><rect x="294.7" y="260.9" width="0.9" height="0.9" fill="#bbb"/><rect x="169.7" y="221.0" width="0.9" height="0.9" fill="#999"/><rect x="59.2" y="262.2" width="0.9" height="0.9" fill="#aaa"/><rect x="40.7" y="237.0" width="0.9" height="0.9" fill="#bbb"/><rect x="40.9" y="275.6" width="0.9" height="0.9" fill="#999"/><rect x="165.1" y="251.1" width="0.9" height="0.9" fill="#ccc"/><rect x="210.8" y="218.7" width="0.9" height="0.9" fill="#aaa"/><rect x="138.5" y="230.2" width="0.9" height="0.9" fill="#bbb"/><rect x="143.9" y="208.6" width="0.9" height="0.9" fill="#bbb"/><rect x="142.9" y="205.3" width="0.9" height="0.9" fill="#bbb"/><rect x="61.3" y="212.4" width="0.9" height="0.9" fill="#bbb"/><rect x="180.2" y="266.6" width="0.9" height="0.9" fill="#999"/><rect x="186.0" y="294.8" width="0.9" height="0.9" fill="#aaa"/><rect x="70.1" y="231.4" width="0.9" height="0.9" fill="#999"/><rect x="60.0" y="251.8" width="0.9" height="0.9" fill="#aaa"/><rect x="203.3" y="212.0" width="0.9" height="0.9" fill="#aaa"/><rect x="204.3" y="287.9" width="0.9" height="0.9" fill="#777"/><rect x="89.7" y="242.9" width="0.9" height="0.9" fill="#ccc"/><rect x="128.0" y="218.2" width="0.9" height="0.9" fill="#aaa"/><rect x="41.7" y="258.9" width="0.9" height="0.9" fill="#999"/><rect x="154.2" y="287.1" width="0.9" height="0.9" fill="#ccc"/><rect x="114.2" y="228.1" width="0.9" height="0.9" fill="#bbb"/><rect x="203.3" y="211.6" width="0.9" height="0.9" fill="#777"/><rect x="52.2" y="277.6" width="0.9" height="0.9" fill="#aaa"/><rect x="37.5" y="210.0" width="0.9" height="0.9" fill="#999"/><rect x="83.1" y="300.2" width="0.9" height="0.9" fill="#aaa"/><rect x="118.4" y="263.9" width="0.9" height="0.9" fill="#ccc"/><rect x="69.5" y="253.0" width="0.9" height="0.9" fill="#aaa"/><rect x="131.6" y="223.1" width="0.9" height="0.9" fill="#bbb"/><rect x="203.3" y="238.9" width="0.9" height="0.9" fill="#777"/><rect x="172.1" y="271.3" width="0.9" height="0.9" fill="#bbb"/><rect x="247.1" y="229.6" width="0.9" height="0.9" fill="#777"/><rect x="93.0" y="264.1" width="0.9" height="0.9" fill="#bbb"/><rect x="253.1" y="228.5" width="0.9" height="0.9" fill="#777"/><rect x="282.6" y="291.7" width="0.9" height="0.9" fill="#999"/><rect x="90.7" y="232.2" width="0.9" height="0.9" fill="#ccc"/><rect x="31.2" y="238.5" width="0.9" height="0.9" fill="#bbb"/><rect x="66.8" y="239.6" width="0.9" height="0.9" fill="#aaa"/><rect x="67.1" y="295.8" width="0.9" height="0.9" fill="#aaa"/><rect x="211.2" y="230.1" width="0.9" height="0.9" fill="#999"/><rect x="45.7" y="284.4" width="0.9" height="0.9" fill="#777"/><rect x="205.8" y="247.2" width="0.9" height="0.9" fill="#ccc"/><rect x="84.7" y="263.4" width="0.9" height="0.9" fill="#ccc"/><rect x="112.0" y="208.3" width="0.9" height="0.9" fill="#ccc"/><rect x="224.7" y="204.1" width="0.9" height="0.9" fill="#ccc"/><rect x="52.3" y="268.1" width="0.9" height="0.9" fill="#999"/><rect x="272.5" y="294.6" width="0.9" height="0.9" fill="#bbb"/><rect x="223.7" y="229.7" width="0.9" height="0.9" fill="#ccc"/><rect x="216.7" y="293.9" width="0.9" height="0.9" fill="#bbb"/><rect x="94.6" y="276.8" width="0.9" height="0.9" fill="#bbb"/><rect x="82.6" y="241.8" width="0.9" height="0.9" fill="#ccc"/><rect x="276.9" y="265.6" width="0.9" height="0.9" fill="#777"/><rect x="158.0" y="286.2" width="0.9" height="0.9" fill="#999"/><rect x="149.2" y="274.9" width="0.9" height="0.9" fill="#bbb"/><rect x="60.9" y="264.8" width="0.9" height="0.9" fill="#aaa"/><rect x="43.2" y="287.9" width="0.9" height="0.9" fill="#aaa"/><rect x="252.5" y="284.2" width="0.9" height="0.9" fill="#999"/><rect x="269.3" y="277.9" width="0.9" height="0.9" fill="#ccc"/><rect x="59.6" y="223.8" width="0.9" height="0.9" fill="#999"/><rect x="288.2" y="293.2" width="0.9" height="0.9" fill="#999"/><rect x="57.6" y="213.1" width="0.9" height="0.9" fill="#aaa"/><rect x="110.4" y="236.6" width="0.9" height="0.9" fill="#bbb"/><rect x="100.2" y="231.3" width="0.9" height="0.9" fill="#bbb"/><rect x="159.8" y="231.8" width="0.9" height="0.9" fill="#ccc"/><rect x="39.0" y="254.6" width="0.9" height="0.9" fill="#ccc"/><rect x="264.6" y="212.5" width="0.9" height="0.9" fill="#aaa"/><rect x="56.5" y="272.0" width="0.9" height="0.9" fill="#ccc"/><rect x="191.4" y="297.8" width="0.9" height="0.9" fill="#777"/><rect x="203.3" y="211.5" width="0.9" height="0.9" fill="#777"/><rect x="139.4" y="242.4" width="0.9" height="0.9" fill="#999"/><rect x="145.1" y="267.1" width="0.9" height="0.9" fill="#bbb"/><rect x="102.0" y="292.3" width="0.9" height="0.9" fill="#ccc"/><rect x="297.2" y="265.6" width="0.9" height="0.9" fill="#aaa"/><rect x="174.8" y="277.8" width="0.9" height="0.9" fill="#999"/><rect x="259.4" y="268.7" width="0.9" height="0.9" fill="#aaa"/><rect x="93.2" y="236.4" width="0.9" height="0.9" fill="#aaa"/><rect x="168.3" y="229.8" width="0.9" height="0.9" fill="#777"/><rect x="72.5" y="218.9" width="0.9" height="0.9" fill="#bbb"/><rect x="290.0" y="229.0" width="0.9" height="0.9" fill="#999"/><rect x="75.2" y="268.3" width="0.9" height="0.9" fill="#aaa"/><rect x="297.6" y="281.8" width="0.9" height="0.9" fill="#ccc"/><rect x="104.8" y="214.3" width="0.9" height="0.9" fill="#bbb"/><rect x="138.8" y="281.4" width="0.9" height="0.9" fill="#777"/><rect x="96.3" y="287.5" width="0.9" height="0.9" fill="#777"/><rect x="226.6" y="290.2" width="0.9" height="0.9" fill="#777"/><rect x="261.9" y="270.4" width="0.9" height="0.9" fill="#ccc"/><rect x="147.9" y="229.1" width="0.9" height="0.9" fill="#ccc"/><rect x="96.3" y="242.9" width="0.9" height="0.9" fill="#aaa"/><rect x="98.4" y="245.2" width="0.9" height="0.9" fill="#777"/><rect x="263.6" y="254.5" width="0.9" height="0.9" fill="#aaa"/><rect x="98.7" y="225.0" width="0.9" height="0.9" fill="#aaa"/><rect x="171.5" y="213.5" width="0.9" height="0.9" fill="#777"/><rect x="232.0" y="248.5" width="0.9" height="0.9" fill="#aaa"/><rect x="144.1" y="244.9" width="0.9" height="0.9" fill="#bbb"/><rect x="139.2" y="297.4" width="0.9" height="0.9" fill="#ccc"/><rect x="156.0" y="219.7" width="0.9" height="0.9" fill="#999"/><rect x="183.1" y="225.8" width="0.9" height="0.9" fill="#bbb"/><rect x="211.3" y="285.3" width="0.9" height="0.9" fill="#ccc"/><rect x="157.6" y="232.5" width="0.9" height="0.9" fill="#aaa"/><rect x="242.2" y="249.7" width="0.9" height="0.9" fill="#aaa"/><rect x="103.1" y="240.6" width="0.9" height="0.9" fill="#ccc"/><rect x="214.8" y="250.9" width="0.9" height="0.9" fill="#bbb"/><rect x="127.7" y="268.0" width="0.9" height="0.9" fill="#ccc"/><rect x="146.8" y="266.3" width="0.9" height="0.9" fill="#bbb"/><rect x="72.0" y="233.4" width="0.9" height="0.9" fill="#999"/><rect x="255.3" y="292.7" width="0.9" height="0.9" fill="#aaa"/><rect x="174.6" y="237.5" width="0.9" height="0.9" fill="#999"/><rect x="87.4" y="210.6" width="0.9" height="0.9" fill="#777"/><rect x="58.1" y="217.6" width="0.9" height="0.9" fill="#ccc"/><rect x="124.6" y="218.5" width="0.9" height="0.9" fill="#777"/><rect x="76.1" y="291.3" width="0.9" height="0.9" fill="#999"/><rect x="212.0" y="291.6" width="0.9" height="0.9" fill="#bbb"/><rect x="84.1" y="271.7" width="0.9" height="0.9" fill="#ccc"/><rect x="144.3" y="285.0" width="0.9" height="0.9" fill="#777"/><rect x="46.4" y="249.5" width="0.9" height="0.9" fill="#ccc"/><rect x="97.4" y="219.7" width="0.9" height="0.9" fill="#999"/><rect x="74.0" y="235.1" width="0.9" height="0.9" fill="#ccc"/><rect x="196.0" y="270.7" width="0.9" height="0.9" fill="#bbb"/><rect x="209.4" y="237.1" width="0.9" height="0.9" fill="#777"/><rect x="145.2" y="258.1" width="0.9" height="0.9" fill="#bbb"/><rect x="126.9" y="252.1" width="0.9" height="0.9" fill="#bbb"/><rect x="224.1" y="216.1" width="0.9" height="0.9" fill="#999"/><rect x="243.4" y="207.4" width="0.9" height="0.9" fill="#ccc"/><rect x="32.2" y="222.2" width="0.9" height="0.9" fill="#777"/><rect x="213.4" y="271.4" width="0.9" height="0.9" fill="#999"/><rect x="88.2" y="269.2" width="0.9" height="0.9" fill="#aaa"/><rect x="240.8" y="293.5" width="0.9" height="0.9" fill="#bbb"/><rect x="39.8" y="205.5" width="0.9" height="0.9" fill="#777"/><rect x="41.2" y="215.2" width="0.9" height="0.9" fill="#777"/><rect x="215.1" y="262.0" width="0.9" height="0.9" fill="#aaa"/><rect x="34.7" y="204.0" width="0.9" height="0.9" fill="#999"/><rect x="63.4" y="250.0" width="0.9" height="0.9" fill="#777"/><rect x="96.3" y="275.8" width="0.9" height="0.9" fill="#999"/><rect x="129.8" y="277.1" width="0.9" height="0.9" fill="#aaa"/><rect x="228.6" y="211.8" width="0.9" height="0.9" fill="#ccc"/><rect x="34.5" y="267.6" width="0.9" height="0.9" fill="#999"/><rect x="136.1" y="234.3" width="0.9" height="0.9" fill="#ccc"/><rect x="195.8" y="234.7" width="0.9" height="0.9" fill="#ccc"/><rect x="158.1" y="219.9" width="0.9" height="0.9" fill="#999"/><rect x="129.1" y="267.0" width="0.9" height="0.9" fill="#ccc"/><rect x="160.0" y="280.1" width="0.9" height="0.9" fill="#bbb"/><rect x="47.0" y="299.4" width="0.9" height="0.9" fill="#777"/><rect x="120.6" y="263.2" width="0.9" height="0.9" fill="#aaa"/><rect x="271.6" y="240.6" width="0.9" height="0.9" fill="#777"/><rect x="73.2" y="294.2" width="0.9" height="0.9" fill="#999"/><rect x="108.8" y="217.4" width="0.9" height="0.9" fill="#777"/><rect x="70.4" y="299.6" width="0.9" height="0.9" fill="#777"/><rect x="53.6" y="258.0" width="0.9" height="0.9" fill="#aaa"/><rect x="244.4" y="274.6" width="0.9" height="0.9" fill="#bbb"/><rect x="195.3" y="270.2" width="0.9" height="0.9" fill="#aaa"/><rect x="135.0" y="256.7" width="0.9" height="0.9" fill="#bbb"/><rect x="240.1" y="226.4" width="0.9" height="0.9" fill="#bbb"/><rect x="79.6" y="272.6" width="0.9" height="0.9" fill="#777"/><rect x="127.9" y="280.3" width="0.9" height="0.9" fill="#aaa"/><rect x="42.6" y="301.7" width="0.9" height="0.9" fill="#999"/><rect x="116.2" y="206.5" width="0.9" height="0.9" fill="#777"/><rect x="36.1" y="206.8" width="0.9" height="0.9" fill="#777"/><rect x="242.1" y="245.5" width="0.9" height="0.9" fill="#777"/><rect x="40.8" y="223.3" width="0.9" height="0.9" fill="#999"/><rect x="38.0" y="206.9" width="0.9" height="0.9" fill="#ccc"/><rect x="162.7" y="286.8" width="0.9" height="0.9" fill="#777"/><rect x="204.2" y="294.3" width="0.9" height="0.9" fill="#999"/><rect x="100.3" y="259.1" width="0.9" height="0.9" fill="#777"/><rect x="41.0" y="228.7" width="0.9" height="0.9" fill="#777"/><rect x="244.0" y="273.4" width="0.9" height="0.9" fill="#ccc"/><rect x="45.6" y="217.8" width="0.9" height="0.9" fill="#aaa"/><rect x="214.3" y="232.9" width="0.9" height="0.9" fill="#999"/><rect x="158.3" y="240.1" width="0.9" height="0.9" fill="#bbb"/><rect x="282.4" y="225.2" width="0.9" height="0.9" fill="#bbb"/>
<polygon points="272,202.5 304,202.5 304,228.3 290,226.9 272,224.8 234,222.7 234,215 250,212.7 266,211.7 280,211.3 272.5,210.2" fill="#222222"/>
<polygon points="273,233.2 304,231.9 304,291.8 275.6,290.4 268.5,288.2 251.5,287.1 220,285.4 209,283.2 182,279.5 165,277.4 147,275.3 130.2,272.5 130.2,267.6 150,265.7 165,264 184,261.4 167,259.8 166.8,256.3 182.3,253.5 200,251 209,248.5 240,245.3 280,241 283.5,240.2 273,239.4" fill="#222222"/>
<polygon points="245,229.8 248.5,226.4 258.6,226.2 258.6,233.3 249,233.2" fill="#222222"/>
<polygon points="204,225.6 209,223.7 223.2,223.4 223.2,227.6 204,227.7" fill="#222222"/>
<polygon points="141.8,219.5 143.5,217.3 149,217.3 149,220.7 141.8,220.7" fill="#222222"/>
<polygon points="106,227.2 111.7,227.2 111.7,230 106,230" fill="#222222"/>
<polygon points="103,244.3 110,242.2 118,240.8 118,245.6 103,245.6" fill="#222222"/>
<polygon points="210.7,287.1 220,287.1 220,291.3 210.7,291.3" fill="#222222"/>
<polygon points="249,290.1 257,290.1 257,294.6 249,294.6" fill="#222222"/>
<polygon points="179.5,289.5 182,287.3 188,287.3 188,291.1 179.5,291.1" fill="#222222"/>
<polygon points="198.5,295.7 200.3,295.7 200.3,300.3 198.5,300.3" fill="#222222"/>
<polygon points="226,236 227.2,236 227.2,242 226,242" fill="#222222"/>
<circle cx="179.1" cy="222.8" r="1.1" fill="#222222"/>
<rect x="29.5" y="202.5" width="274.5" height="100.5" fill="none" stroke="#c4c4c4" stroke-width="0.8"/>
<text x="26.5" y="206.45125" font-size="10.4" text-anchor="end" fill="#1e1e1e" font-weight="normal" textLength="15.3" lengthAdjust="spacingAndGlyphs" >200</text>
<text x="26.5" y="231.57625" font-size="10.4" text-anchor="end" fill="#1e1e1e" font-weight="normal" textLength="15.3" lengthAdjust="spacingAndGlyphs" >150</text>
<text x="26.5" y="256.70125" font-size="10.4" text-anchor="end" fill="#1e1e1e" font-weight="normal" textLength="15.3" lengthAdjust="spacingAndGlyphs" >100</text>
<text x="26.5" y="281.82625" font-size="10.4" text-anchor="end" fill="#1e1e1e" font-weight="normal" textLength="10.2" lengthAdjust="spacingAndGlyphs" >50</text>
<text x="26.5" y="306.44874999999996" font-size="10.4" text-anchor="end" fill="#1e1e1e" font-weight="normal" >1</text>
<text x="98.125" y="315.6" font-size="10.4" text-anchor="middle" fill="#1e1e1e" font-weight="normal" textLength="13" lengthAdjust="spacingAndGlyphs" >0.5</text>
<text x="166.75" y="315.6" font-size="10.4" text-anchor="middle" fill="#1e1e1e" font-weight="normal" >1</text>
<text x="235.375" y="315.6" font-size="10.4" text-anchor="middle" fill="#1e1e1e" font-weight="normal" textLength="13" lengthAdjust="spacingAndGlyphs" >1.5</text>
<text x="304.0" y="315.6" font-size="10.4" text-anchor="middle" fill="#1e1e1e" font-weight="normal" >2</text>
<path d="M29.5,202.75 h2.6 M29.5,227.88 h2.6 M29.5,253.00 h2.6 M29.5,278.13 h2.6 M29.5,302.75 h2.6 M98.12,303 v-2.6 M98.12,202.5 v2.6 M166.75,303 v-2.6 M166.75,202.5 v2.6 M235.38,303 v-2.6 M235.38,202.5 v2.6 M304.00,303 v-2.6 M304.00,202.5 v2.6" stroke="#bbb" stroke-width="0.8"/>
<text x="142.6" y="327.8" font-size="10" text-anchor="start" fill="#1a1a1a" font-weight="normal" textLength="48" lengthAdjust="spacingAndGlyphs" stroke="#1a1a1a" stroke-width="0.25">Time step</text>
<text x="0" y="0" font-size="10.3" fill="#1a1a1a" stroke="#1a1a1a" stroke-width="0.25" textLength="73.5" lengthAdjust="spacingAndGlyphs" transform="translate(8.6,289) rotate(-90)">Position in clay</text>
<text x="281.5" y="331.8" font-size="9.6" text-anchor="start" fill="#333" font-weight="normal" >×</text>
<text x="289.4" y="332.2" font-size="10.6" text-anchor="start" fill="#1e1e1e" font-weight="normal" textLength="9.4" lengthAdjust="spacingAndGlyphs" >10</text>
<text x="299.0" y="327.0" font-size="8.6" text-anchor="start" fill="#1e1e1e" font-weight="normal" >4</text>
<text x="336.6" y="182.8" font-size="17.6" text-anchor="start" fill="#000" font-weight="normal" stroke="#000" stroke-width="0.3">D</text>
<rect x="414.0" y="259.0" width="0.9" height="0.9" fill="#7fd0f0" opacity="0.8"/><rect x="413.9" y="288.7" width="0.9" height="0.9" fill="#0bbdf0" opacity="0.8"/><rect x="385.6" y="254.1" width="0.9" height="0.9" fill="#5ab8e0" opacity="0.8"/><rect x="431.1" y="221.3" width="0.9" height="0.9" fill="#7fd0f0" opacity="0.8"/><rect x="398.2" y="211.7" width="0.9" height="0.9" fill="#5ab8e0" opacity="0.8"/><rect x="433.3" y="262.6" width="0.9" height="0.9" fill="#7fd0f0" opacity="0.8"/><rect x="468.3" y="268.4" width="0.9" height="0.9" fill="#9ad8f0" opacity="0.8"/><rect x="434.9" y="265.3" width="0.9" height="0.9" fill="#9ad8f0" opacity="0.8"/><rect x="372.7" y="206.2" width="0.9" height="0.9" fill="#0bbdf0" opacity="0.8"/><rect x="429.6" y="281.0" width="0.9" height="0.9" fill="#0bbdf0" opacity="0.8"/><rect x="412.7" y="287.4" width="0.9" height="0.9" fill="#9ad8f0" opacity="0.8"/><rect x="390.8" y="232.2" width="0.9" height="0.9" fill="#0bbdf0" opacity="0.8"/><rect x="436.2" y="248.7" width="0.9" height="0.9" fill="#0bbdf0" opacity="0.8"/><rect x="409.1" y="258.1" width="0.9" height="0.9" fill="#0bbdf0" opacity="0.8"/><rect x="441.0" y="234.3" width="0.9" height="0.9" fill="#0bbdf0" opacity="0.8"/><rect x="420.4" y="205.6" width="0.9" height="0.9" fill="#9ad8f0" opacity="0.8"/><rect x="447.2" y="242.9" width="0.9" height="0.9" fill="#0bbdf0" opacity="0.8"/><rect x="407.0" y="299.1" width="0.9" height="0.9" fill="#5ab8e0" opacity="0.8"/><rect x="366.1" y="223.7" width="0.9" height="0.9" fill="#0bbdf0" opacity="0.8"/><rect x="415.8" y="301.3" width="0.9" height="0.9" fill="#7fd0f0" opacity="0.8"/><rect x="410.5" y="259.6" width="0.9" height="0.9" fill="#0bbdf0" opacity="0.8"/><rect x="448.5" y="229.8" width="0.9" height="0.9" fill="#0bbdf0" opacity="0.8"/><rect x="399.0" y="204.1" width="0.9" height="0.9" fill="#7fd0f0" opacity="0.8"/><rect x="446.4" y="214.5" width="0.9" height="0.9" fill="#0bbdf0" opacity="0.8"/><rect x="440.9" y="203.7" width="0.9" height="0.9" fill="#7fd0f0" opacity="0.8"/><rect x="450.5" y="220.5" width="0.9" height="0.9" fill="#9ad8f0" opacity="0.8"/><rect x="386.0" y="253.8" width="0.9" height="0.9" fill="#5ab8e0" opacity="0.8"/><rect x="447.6" y="244.8" width="0.9" height="0.9" fill="#7fd0f0" opacity="0.8"/><rect x="378.3" y="245.0" width="0.9" height="0.9" fill="#0bbdf0" opacity="0.8"/><rect x="366.0" y="289.6" width="0.9" height="0.9" fill="#9ad8f0" opacity="0.8"/><rect x="398.2" y="291.7" width="0.9" height="0.9" fill="#0bbdf0" opacity="0.8"/><rect x="385.9" y="302.9" width="0.9" height="0.9" fill="#9ad8f0" opacity="0.8"/><rect x="434.0" y="212.7" width="0.9" height="0.9" fill="#0bbdf0" opacity="0.8"/><rect x="388.6" y="228.6" width="0.9" height="0.9" fill="#9ad8f0" opacity="0.8"/><rect x="400.9" y="232.4" width="0.9" height="0.9" fill="#0bbdf0" opacity="0.8"/><rect x="373.9" y="223.6" width="0.9" height="0.9" fill="#5ab8e0" opacity="0.8"/><rect x="391.8" y="263.1" width="0.9" height="0.9" fill="#0bbdf0" opacity="0.8"/><rect x="431.9" y="215.4" width="0.9" height="0.9" fill="#9ad8f0" opacity="0.8"/><rect x="417.3" y="260.5" width="0.9" height="0.9" fill="#7fd0f0" opacity="0.8"/><rect x="385.4" y="218.1" width="0.9" height="0.9" fill="#0bbdf0" opacity="0.8"/><rect x="452.7" y="227.7" width="0.9" height="0.9" fill="#0bbdf0" opacity="0.8"/><rect x="382.8" y="265.9" width="0.9" height="0.9" fill="#9ad8f0" opacity="0.8"/><rect x="386.8" y="298.3" width="0.9" height="0.9" fill="#7fd0f0" opacity="0.8"/><rect x="430.0" y="245.0" width="0.9" height="0.9" fill="#0bbdf0" opacity="0.8"/><rect x="377.6" y="254.2" width="0.9" height="0.9" fill="#0bbdf0" opacity="0.8"/><rect x="391.3" y="273.6" width="0.9" height="0.9" fill="#0bbdf0" opacity="0.8"/><rect x="410.6" y="293.7" width="0.9" height="0.9" fill="#7fd0f0" opacity="0.8"/><rect x="397.1" y="220.3" width="0.9" height="0.9" fill="#5ab8e0" opacity="0.8"/><rect x="469.6" y="215.3" width="0.9" height="0.9" fill="#7fd0f0" opacity="0.8"/><rect x="425.3" y="288.4" width="0.9" height="0.9" fill="#9ad8f0" opacity="0.8"/><rect x="373.9" y="224.0" width="0.9" height="0.9" fill="#0bbdf0" opacity="0.8"/><rect x="445.4" y="209.6" width="0.9" height="0.9" fill="#7fd0f0" opacity="0.8"/><rect x="413.2" y="208.7" width="0.9" height="0.9" fill="#0bbdf0" opacity="0.8"/><rect x="395.9" y="256.1" width="0.9" height="0.9" fill="#0bbdf0" opacity="0.8"/><rect x="375.8" y="216.5" width="0.9" height="0.9" fill="#7fd0f0" opacity="0.8"/><rect x="469.9" y="268.8" width="0.9" height="0.9" fill="#5ab8e0" opacity="0.8"/><rect x="421.3" y="297.9" width="0.9" height="0.9" fill="#9ad8f0" opacity="0.8"/><rect x="369.7" y="204.4" width="0.9" height="0.9" fill="#0bbdf0" opacity="0.8"/><rect x="440.3" y="299.6" width="0.9" height="0.9" fill="#0bbdf0" opacity="0.8"/><rect x="429.4" y="210.1" width="0.9" height="0.9" fill="#0bbdf0" opacity="0.8"/><rect x="443.4" y="234.7" width="0.9" height="0.9" fill="#0bbdf0" opacity="0.8"/><rect x="374.0" y="257.6" width="0.9" height="0.9" fill="#5ab8e0" opacity="0.8"/><rect x="370.7" y="296.9" width="0.9" height="0.9" fill="#5ab8e0" opacity="0.8"/><rect x="440.6" y="282.5" width="0.9" height="0.9" fill="#0bbdf0" opacity="0.8"/><rect x="403.3" y="271.6" width="0.9" height="0.9" fill="#0bbdf0" opacity="0.8"/><rect x="458.3" y="244.6" width="0.9" height="0.9" fill="#0bbdf0" opacity="0.8"/><rect x="457.5" y="260.3" width="0.9" height="0.9" fill="#9ad8f0" opacity="0.8"/><rect x="436.2" y="240.8" width="0.9" height="0.9" fill="#0bbdf0" opacity="0.8"/><rect x="430.5" y="210.7" width="0.9" height="0.9" fill="#5ab8e0" opacity="0.8"/><rect x="378.3" y="228.5" width="0.9" height="0.9" fill="#7fd0f0" opacity="0.8"/><rect x="443.2" y="241.7" width="0.9" height="0.9" fill="#5ab8e0" opacity="0.8"/><rect x="439.6" y="248.7" width="0.9" height="0.9" fill="#7fd0f0" opacity="0.8"/><rect x="454.9" y="211.0" width="0.9" height="0.9" fill="#9ad8f0" opacity="0.8"/><rect x="369.2" y="263.1" width="0.9" height="0.9" fill="#7fd0f0" opacity="0.8"/><rect x="368.4" y="299.0" width="0.9" height="0.9" fill="#0bbdf0" opacity="0.8"/><rect x="418.7" y="264.5" width="0.9" height="0.9" fill="#7fd0f0" opacity="0.8"/><rect x="393.1" y="203.7" width="0.9" height="0.9" fill="#0bbdf0" opacity="0.8"/><rect x="381.2" y="264.2" width="0.9" height="0.9" fill="#9ad8f0" opacity="0.8"/><rect x="384.0" y="293.8" width="0.9" height="0.9" fill="#5ab8e0" opacity="0.8"/><rect x="464.6" y="252.8" width="0.9" height="0.9" fill="#0bbdf0" opacity="0.8"/><rect x="400.7" y="269.7" width="0.9" height="0.9" fill="#0bbdf0" opacity="0.8"/><rect x="433.2" y="283.5" width="0.9" height="0.9" fill="#0bbdf0" opacity="0.8"/><rect x="459.3" y="241.3" width="0.9" height="0.9" fill="#9ad8f0" opacity="0.8"/><rect x="463.6" y="223.7" width="0.9" height="0.9" fill="#0bbdf0" opacity="0.8"/><rect x="418.6" y="286.9" width="0.9" height="0.9" fill="#0bbdf0" opacity="0.8"/><rect x="441.4" y="298.3" width="0.9" height="0.9" fill="#0bbdf0" opacity="0.8"/><rect x="453.1" y="214.0" width="0.9" height="0.9" fill="#7fd0f0" opacity="0.8"/><rect x="395.2" y="224.2" width="0.9" height="0.9" fill="#7fd0f0" opacity="0.8"/><rect x="406.6" y="255.0" width="0.9" height="0.9" fill="#5ab8e0" opacity="0.8"/><rect x="399.4" y="287.1" width="0.9" height="0.9" fill="#9ad8f0" opacity="0.8"/><rect x="414.0" y="210.1" width="0.9" height="0.9" fill="#0bbdf0" opacity="0.8"/><rect x="395.5" y="263.8" width="0.9" height="0.9" fill="#5ab8e0" opacity="0.8"/><rect x="441.1" y="260.1" width="0.9" height="0.9" fill="#0bbdf0" opacity="0.8"/><rect x="434.8" y="259.4" width="0.9" height="0.9" fill="#5ab8e0" opacity="0.8"/><rect x="380.4" y="248.4" width="0.9" height="0.9" fill="#0bbdf0" opacity="0.8"/><rect x="447.5" y="229.4" width="0.9" height="0.9" fill="#0bbdf0" opacity="0.8"/><rect x="450.5" y="301.7" width="0.9" height="0.9" fill="#0bbdf0" opacity="0.8"/><rect x="413.3" y="266.0" width="0.9" height="0.9" fill="#5ab8e0" opacity="0.8"/><rect x="433.8" y="239.7" width="0.9" height="0.9" fill="#0bbdf0" opacity="0.8"/><rect x="438.6" y="222.7" width="0.9" height="0.9" fill="#7fd0f0" opacity="0.8"/><rect x="393.1" y="274.5" width="0.9" height="0.9" fill="#7fd0f0" opacity="0.8"/><rect x="422.7" y="206.2" width="0.9" height="0.9" fill="#0bbdf0" opacity="0.8"/><rect x="394.9" y="237.4" width="0.9" height="0.9" fill="#5ab8e0" opacity="0.8"/><rect x="466.4" y="253.0" width="0.9" height="0.9" fill="#0bbdf0" opacity="0.8"/><rect x="407.7" y="282.3" width="0.9" height="0.9" fill="#0bbdf0" opacity="0.8"/><rect x="375.2" y="296.5" width="0.9" height="0.9" fill="#5ab8e0" opacity="0.8"/><rect x="407.1" y="248.0" width="0.9" height="0.9" fill="#0bbdf0" opacity="0.8"/><rect x="432.3" y="294.2" width="0.9" height="0.9" fill="#7fd0f0" opacity="0.8"/><rect x="424.3" y="268.3" width="0.9" height="0.9" fill="#9ad8f0" opacity="0.8"/><rect x="450.5" y="297.7" width="0.9" height="0.9" fill="#7fd0f0" opacity="0.8"/><rect x="400.6" y="301.5" width="0.9" height="0.9" fill="#0bbdf0" opacity="0.8"/><rect x="442.5" y="285.0" width="0.9" height="0.9" fill="#5ab8e0" opacity="0.8"/><rect x="464.0" y="215.0" width="0.9" height="0.9" fill="#0bbdf0" opacity="0.8"/><rect x="461.4" y="301.3" width="0.9" height="0.9" fill="#0bbdf0" opacity="0.8"/><rect x="422.9" y="282.2" width="0.9" height="0.9" fill="#0bbdf0" opacity="0.8"/><rect x="393.8" y="274.9" width="0.9" height="0.9" fill="#0bbdf0" opacity="0.8"/><rect x="402.9" y="210.9" width="0.9" height="0.9" fill="#7fd0f0" opacity="0.8"/><rect x="402.3" y="245.0" width="0.9" height="0.9" fill="#0bbdf0" opacity="0.8"/><rect x="417.7" y="205.5" width="0.9" height="0.9" fill="#0bbdf0" opacity="0.8"/><rect x="411.5" y="206.1" width="0.9" height="0.9" fill="#9ad8f0" opacity="0.8"/><rect x="401.5" y="281.9" width="0.9" height="0.9" fill="#0bbdf0" opacity="0.8"/><rect x="415.9" y="303.3" width="0.9" height="0.9" fill="#5ab8e0" opacity="0.8"/><rect x="420.9" y="270.9" width="0.9" height="0.9" fill="#7fd0f0" opacity="0.8"/><rect x="466.2" y="252.2" width="0.9" height="0.9" fill="#5ab8e0" opacity="0.8"/><rect x="375.1" y="224.9" width="0.9" height="0.9" fill="#9ad8f0" opacity="0.8"/><rect x="425.2" y="286.3" width="0.9" height="0.9" fill="#9ad8f0" opacity="0.8"/><rect x="433.7" y="255.2" width="0.9" height="0.9" fill="#9ad8f0" opacity="0.8"/><rect x="393.2" y="270.2" width="0.9" height="0.9" fill="#9ad8f0" opacity="0.8"/><rect x="388.1" y="288.3" width="0.9" height="0.9" fill="#9ad8f0" opacity="0.8"/><rect x="421.6" y="260.3" width="0.9" height="0.9" fill="#0bbdf0" opacity="0.8"/><rect x="409.6" y="214.1" width="0.9" height="0.9" fill="#0bbdf0" opacity="0.8"/><rect x="430.2" y="205.4" width="0.9" height="0.9" fill="#0bbdf0" opacity="0.8"/><rect x="420.7" y="242.9" width="0.9" height="0.9" fill="#9ad8f0" opacity="0.8"/><rect x="378.9" y="212.0" width="0.9" height="0.9" fill="#0bbdf0" opacity="0.8"/><rect x="373.0" y="256.8" width="0.9" height="0.9" fill="#7fd0f0" opacity="0.8"/><rect x="463.6" y="283.2" width="0.9" height="0.9" fill="#7fd0f0" opacity="0.8"/><rect x="394.5" y="250.2" width="0.9" height="0.9" fill="#0bbdf0" opacity="0.8"/><rect x="402.0" y="293.3" width="0.9" height="0.9" fill="#7fd0f0" opacity="0.8"/><rect x="421.6" y="213.5" width="0.9" height="0.9" fill="#7fd0f0" opacity="0.8"/><rect x="431.5" y="295.8" width="0.9" height="0.9" fill="#0bbdf0" opacity="0.8"/><rect x="440.4" y="301.0" width="0.9" height="0.9" fill="#0bbdf0" opacity="0.8"/><rect x="386.6" y="225.5" width="0.9" height="0.9" fill="#5ab8e0" opacity="0.8"/><rect x="396.1" y="275.5" width="0.9" height="0.9" fill="#0bbdf0" opacity="0.8"/><rect x="431.7" y="213.2" width="0.9" height="0.9" fill="#5ab8e0" opacity="0.8"/><rect x="427.7" y="288.4" width="0.9" height="0.9" fill="#9ad8f0" opacity="0.8"/><rect x="392.6" y="222.5" width="0.9" height="0.9" fill="#9ad8f0" opacity="0.8"/><rect x="459.1" y="204.9" width="0.9" height="0.9" fill="#5ab8e0" opacity="0.8"/><rect x="409.8" y="255.9" width="0.9" height="0.9" fill="#0bbdf0" opacity="0.8"/><rect x="423.0" y="289.6" width="0.9" height="0.9" fill="#9ad8f0" opacity="0.8"/><rect x="433.7" y="255.9" width="0.9" height="0.9" fill="#9ad8f0" opacity="0.8"/><rect x="430.8" y="288.9" width="0.9" height="0.9" fill="#0bbdf0" opacity="0.8"/><rect x="463.0" y="265.8" width="0.9" height="0.9" fill="#0bbdf0" opacity="0.8"/><rect x="461.7" y="234.4" width="0.9" height="0.9" fill="#0bbdf0" opacity="0.8"/><rect x="460.4" y="222.2" width="0.9" height="0.9" fill="#0bbdf0" opacity="0.8"/><rect x="460.1" y="216.1" width="0.9" height="0.9" fill="#0bbdf0" opacity="0.8"/><rect x="380.0" y="211.5" width="0.9" height="0.9" fill="#7fd0f0" opacity="0.8"/><rect x="376.3" y="286.4" width="0.9" height="0.9" fill="#7fd0f0" opacity="0.8"/><rect x="423.6" y="273.6" width="0.9" height="0.9" fill="#0bbdf0" opacity="0.8"/><rect x="408.7" y="271.6" width="0.9" height="0.9" fill="#0bbdf0" opacity="0.8"/><rect x="376.2" y="260.0" width="0.9" height="0.9" fill="#0bbdf0" opacity="0.8"/><rect x="462.6" y="300.1" width="0.9" height="0.9" fill="#0bbdf0" opacity="0.8"/><rect x="440.7" y="266.5" width="0.9" height="0.9" fill="#0bbdf0" opacity="0.8"/><rect x="419.3" y="271.6" width="0.9" height="0.9" fill="#0bbdf0" opacity="0.8"/><rect x="451.1" y="251.1" width="0.9" height="0.9" fill="#0bbdf0" opacity="0.8"/><rect x="370.0" y="258.2" width="0.9" height="0.9" fill="#9ad8f0" opacity="0.8"/><rect x="461.9" y="251.1" width="0.9" height="0.9" fill="#0bbdf0" opacity="0.8"/><rect x="385.6" y="223.1" width="0.9" height="0.9" fill="#0bbdf0" opacity="0.8"/><rect x="471.0" y="295.9" width="0.9" height="0.9" fill="#0bbdf0" opacity="0.8"/><rect x="427.5" y="216.1" width="0.9" height="0.9" fill="#5ab8e0" opacity="0.8"/><rect x="415.0" y="279.6" width="0.9" height="0.9" fill="#0bbdf0" opacity="0.8"/><rect x="407.4" y="245.5" width="0.9" height="0.9" fill="#0bbdf0" opacity="0.8"/><rect x="411.6" y="263.1" width="0.9" height="0.9" fill="#0bbdf0" opacity="0.8"/><rect x="433.2" y="206.7" width="0.9" height="0.9" fill="#0bbdf0" opacity="0.8"/><rect x="385.2" y="248.3" width="0.9" height="0.9" fill="#5ab8e0" opacity="0.8"/><rect x="405.2" y="295.4" width="0.9" height="0.9" fill="#9ad8f0" opacity="0.8"/><rect x="383.5" y="254.2" width="0.9" height="0.9" fill="#0bbdf0" opacity="0.8"/><rect x="400.3" y="211.1" width="0.9" height="0.9" fill="#5ab8e0" opacity="0.8"/><rect x="458.8" y="294.1" width="0.9" height="0.9" fill="#7fd0f0" opacity="0.8"/><rect x="426.4" y="221.8" width="0.9" height="0.9" fill="#9ad8f0" opacity="0.8"/><rect x="470.2" y="283.6" width="0.9" height="0.9" fill="#0bbdf0" opacity="0.8"/><rect x="395.6" y="214.3" width="0.9" height="0.9" fill="#5ab8e0" opacity="0.8"/><rect x="448.5" y="284.6" width="0.9" height="0.9" fill="#7fd0f0" opacity="0.8"/><rect x="380.1" y="235.8" width="0.9" height="0.9" fill="#9ad8f0" opacity="0.8"/><rect x="439.6" y="279.9" width="0.9" height="0.9" fill="#0bbdf0" opacity="0.8"/><rect x="409.0" y="275.4" width="0.9" height="0.9" fill="#0bbdf0" opacity="0.8"/><rect x="450.5" y="233.0" width="0.9" height="0.9" fill="#0bbdf0" opacity="0.8"/><rect x="367.1" y="238.4" width="0.9" height="0.9" fill="#5ab8e0" opacity="0.8"/><rect x="461.7" y="207.6" width="0.9" height="0.9" fill="#0bbdf0" opacity="0.8"/><rect x="466.1" y="269.7" width="0.9" height="0.9" fill="#0bbdf0" opacity="0.8"/><rect x="388.9" y="243.5" width="0.9" height="0.9" fill="#0bbdf0" opacity="0.8"/><rect x="422.5" y="241.8" width="0.9" height="0.9" fill="#7fd0f0" opacity="0.8"/><rect x="434.1" y="273.2" width="0.9" height="0.9" fill="#7fd0f0" opacity="0.8"/><rect x="469.9" y="204.9" width="0.9" height="0.9" fill="#9ad8f0" opacity="0.8"/><rect x="377.5" y="226.5" width="0.9" height="0.9" fill="#7fd0f0" opacity="0.8"/><rect x="408.6" y="207.7" width="0.9" height="0.9" fill="#0bbdf0" opacity="0.8"/><rect x="434.7" y="203.7" width="0.9" height="0.9" fill="#0bbdf0" opacity="0.8"/><rect x="392.6" y="293.8" width="0.9" height="0.9" fill="#9ad8f0" opacity="0.8"/><rect x="423.3" y="244.5" width="0.9" height="0.9" fill="#9ad8f0" opacity="0.8"/><rect x="426.2" y="302.8" width="0.9" height="0.9" fill="#5ab8e0" opacity="0.8"/><rect x="413.1" y="267.5" width="0.9" height="0.9" fill="#9ad8f0" opacity="0.8"/><rect x="429.3" y="279.1" width="0.9" height="0.9" fill="#0bbdf0" opacity="0.8"/><rect x="407.0" y="297.1" width="0.9" height="0.9" fill="#7fd0f0" opacity="0.8"/><rect x="416.0" y="219.6" width="0.9" height="0.9" fill="#7fd0f0" opacity="0.8"/><rect x="423.4" y="262.7" width="0.9" height="0.9" fill="#7fd0f0" opacity="0.8"/><rect x="466.2" y="245.0" width="0.9" height="0.9" fill="#9ad8f0" opacity="0.8"/><rect x="408.2" y="234.1" width="0.9" height="0.9" fill="#9ad8f0" opacity="0.8"/><rect x="396.3" y="268.6" width="0.9" height="0.9" fill="#9ad8f0" opacity="0.8"/><rect x="464.5" y="269.4" width="0.9" height="0.9" fill="#5ab8e0" opacity="0.8"/><rect x="397.4" y="204.0" width="0.9" height="0.9" fill="#0bbdf0" opacity="0.8"/><rect x="428.1" y="266.3" width="0.9" height="0.9" fill="#7fd0f0" opacity="0.8"/><rect x="446.0" y="241.9" width="0.9" height="0.9" fill="#0bbdf0" opacity="0.8"/><rect x="445.3" y="207.7" width="0.9" height="0.9" fill="#5ab8e0" opacity="0.8"/><rect x="466.1" y="210.0" width="0.9" height="0.9" fill="#0bbdf0" opacity="0.8"/><rect x="411.5" y="250.7" width="0.9" height="0.9" fill="#0bbdf0" opacity="0.8"/><rect x="370.8" y="212.5" width="0.9" height="0.9" fill="#5ab8e0" opacity="0.8"/><rect x="462.4" y="217.1" width="0.9" height="0.9" fill="#0bbdf0" opacity="0.8"/><rect x="430.0" y="214.2" width="0.9" height="0.9" fill="#9ad8f0" opacity="0.8"/><rect x="410.2" y="214.5" width="0.9" height="0.9" fill="#0bbdf0" opacity="0.8"/><rect x="403.8" y="218.2" width="0.9" height="0.9" fill="#0bbdf0" opacity="0.8"/><rect x="412.9" y="269.9" width="0.9" height="0.9" fill="#7fd0f0" opacity="0.8"/><rect x="429.7" y="267.0" width="0.9" height="0.9" fill="#5ab8e0" opacity="0.8"/><rect x="410.5" y="280.9" width="0.9" height="0.9" fill="#9ad8f0" opacity="0.8"/><rect x="452.4" y="216.4" width="0.9" height="0.9" fill="#0bbdf0" opacity="0.8"/><rect x="443.8" y="226.6" width="0.9" height="0.9" fill="#0bbdf0" opacity="0.8"/><rect x="419.3" y="233.7" width="0.9" height="0.9" fill="#9ad8f0" opacity="0.8"/><rect x="432.2" y="238.8" width="0.9" height="0.9" fill="#0bbdf0" opacity="0.8"/><rect x="430.6" y="275.6" width="0.9" height="0.9" fill="#5ab8e0" opacity="0.8"/><rect x="428.7" y="266.4" width="0.9" height="0.9" fill="#0bbdf0" opacity="0.8"/><rect x="386.1" y="227.7" width="0.9" height="0.9" fill="#5ab8e0" opacity="0.8"/><rect x="463.1" y="291.1" width="0.9" height="0.9" fill="#0bbdf0" opacity="0.8"/><rect x="432.6" y="203.6" width="0.9" height="0.9" fill="#0bbdf0" opacity="0.8"/><rect x="411.1" y="265.4" width="0.9" height="0.9" fill="#0bbdf0" opacity="0.8"/><rect x="389.6" y="230.6" width="0.9" height="0.9" fill="#0bbdf0" opacity="0.8"/><rect x="462.8" y="218.8" width="0.9" height="0.9" fill="#0bbdf0" opacity="0.8"/><rect x="432.9" y="240.2" width="0.9" height="0.9" fill="#7fd0f0" opacity="0.8"/><rect x="403.5" y="236.7" width="0.9" height="0.9" fill="#7fd0f0" opacity="0.8"/><rect x="445.0" y="287.0" width="0.9" height="0.9" fill="#0bbdf0" opacity="0.8"/><rect x="451.0" y="247.6" width="0.9" height="0.9" fill="#9ad8f0" opacity="0.8"/><rect x="454.8" y="280.0" width="0.9" height="0.9" fill="#7fd0f0" opacity="0.8"/><rect x="411.0" y="228.6" width="0.9" height="0.9" fill="#0bbdf0" opacity="0.8"/><rect x="405.1" y="268.4" width="0.9" height="0.9" fill="#9ad8f0" opacity="0.8"/><rect x="400.5" y="257.8" width="0.9" height="0.9" fill="#5ab8e0" opacity="0.8"/><rect x="453.6" y="221.1" width="0.9" height="0.9" fill="#5ab8e0" opacity="0.8"/><rect x="405.1" y="212.4" width="0.9" height="0.9" fill="#0bbdf0" opacity="0.8"/><rect x="374.3" y="211.0" width="0.9" height="0.9" fill="#9ad8f0" opacity="0.8"/><rect x="426.2" y="284.7" width="0.9" height="0.9" fill="#7fd0f0" opacity="0.8"/><rect x="397.7" y="280.7" width="0.9" height="0.9" fill="#0bbdf0" opacity="0.8"/><rect x="398.9" y="294.3" width="0.9" height="0.9" fill="#9ad8f0" opacity="0.8"/><rect x="374.7" y="233.2" width="0.9" height="0.9" fill="#5ab8e0" opacity="0.8"/><rect x="447.0" y="235.6" width="0.9" height="0.9" fill="#0bbdf0" opacity="0.8"/><rect x="389.2" y="268.8" width="0.9" height="0.9" fill="#0bbdf0" opacity="0.8"/><rect x="404.8" y="214.4" width="0.9" height="0.9" fill="#5ab8e0" opacity="0.8"/><rect x="412.7" y="262.5" width="0.9" height="0.9" fill="#5ab8e0" opacity="0.8"/><rect x="462.8" y="246.7" width="0.9" height="0.9" fill="#0bbdf0" opacity="0.8"/><rect x="414.6" y="224.9" width="0.9" height="0.9" fill="#5ab8e0" opacity="0.8"/><rect x="460.8" y="227.6" width="0.9" height="0.9" fill="#0bbdf0" opacity="0.8"/><rect x="453.8" y="205.0" width="0.9" height="0.9" fill="#5ab8e0" opacity="0.8"/><rect x="407.9" y="241.6" width="0.9" height="0.9" fill="#0bbdf0" opacity="0.8"/><rect x="444.3" y="239.7" width="0.9" height="0.9" fill="#7fd0f0" opacity="0.8"/><rect x="423.3" y="286.8" width="0.9" height="0.9" fill="#9ad8f0" opacity="0.8"/>
<clipPath id="clipD"><rect x="366.0" y="202.6" width="271.79999999999995" height="101.30000000000001"/></clipPath>
<g clip-path="url(#clipD)">
<rect x="492.05" y="202.60" width="33.85" height="1.40" fill="#0a71bd"/>
<rect x="492.05" y="204.00" width="33.85" height="2.50" fill="#00cf00"/><rect x="509.22" y="204.00" width="16.68" height="2.50" fill="#ff5ec6"/>
<rect x="492.05" y="206.50" width="33.85" height="6.50" fill="#0a71bd"/><rect x="507.35" y="206.50" width="18.55" height="1.00" fill="#d26a00"/><rect x="511.76" y="207.50" width="14.14" height="0.80" fill="#d26a00"/><rect x="509.42" y="207.90" width="11.73" height="0.40" fill="#ff5ec6"/><rect x="499.93" y="208.30" width="25.97" height="0.80" fill="#d26a00"/><rect x="500.58" y="209.10" width="25.32" height="0.80" fill="#d26a00"/><rect x="510.20" y="209.90" width="15.70" height="1.50" fill="#d26a00"/><rect x="505.91" y="211.40" width="19.99" height="1.60" fill="#d26a00"/>
<rect x="492.05" y="213.00" width="33.85" height="2.00" fill="#a0ae92"/>
<rect x="492.05" y="215.00" width="33.85" height="9.80" fill="#00cf00"/><rect x="503.02" y="215.00" width="22.88" height="1.50" fill="#ff5ec6"/><rect x="510.24" y="216.50" width="15.66" height="0.80" fill="#ff5ec6"/><rect x="514.63" y="219.30" width="11.27" height="1.00" fill="#d26a00"/><rect x="503.62" y="220.30" width="22.28" height="1.50" fill="#ff5ec6"/><rect x="510.39" y="221.80" width="15.51" height="2.00" fill="#ff5ec6"/><rect x="511.53" y="223.80" width="14.37" height="1.00" fill="#ff5ec6"/>
<rect x="492.05" y="224.80" width="33.85" height="6.60" fill="#0a71bd"/><rect x="504.73" y="224.80" width="21.17" height="1.00" fill="#d26a00"/><rect x="510.51" y="226.80" width="15.39" height="0.80" fill="#d26a00"/><rect x="515.95" y="227.60" width="9.95" height="1.00" fill="#a0ae92"/><rect x="513.53" y="228.60" width="12.37" height="0.80" fill="#d26a00"/><rect x="510.66" y="229.08" width="8.11" height="0.32" fill="#a0ae92"/><rect x="506.13" y="229.40" width="19.77" height="1.00" fill="#d26a00"/><rect x="502.90" y="230.40" width="23.00" height="1.00" fill="#d26a00"/><rect x="498.96" y="230.90" width="12.12" height="0.50" fill="#ff5ec6"/>
<rect x="492.05" y="231.40" width="33.85" height="5.20" fill="#00cf00"/><rect x="511.69" y="231.40" width="11.72" height="1.20" fill="#a0ae92"/><rect x="498.50" y="232.60" width="27.40" height="0.80" fill="#ff5ec6"/><rect x="493.32" y="233.00" width="12.86" height="0.40" fill="#a0ae92"/><rect x="511.52" y="233.40" width="14.38" height="2.00" fill="#ff5ec6"/><rect x="515.83" y="235.40" width="8.50" height="1.20" fill="#a0ae92"/>
<rect x="492.05" y="236.60" width="33.85" height="7.80" fill="#0a71bd"/><rect x="508.40" y="236.60" width="17.50" height="1.00" fill="#d26a00"/><rect x="502.77" y="237.10" width="7.87" height="0.50" fill="#a0ae92"/><rect x="508.92" y="237.60" width="16.98" height="2.00" fill="#d26a00"/><rect x="499.04" y="239.60" width="26.86" height="1.00" fill="#d26a00"/><rect x="512.05" y="240.60" width="13.85" height="1.00" fill="#d26a00"/><rect x="504.10" y="241.60" width="21.80" height="2.00" fill="#d26a00"/><rect x="506.27" y="243.60" width="19.63" height="0.80" fill="#d26a00"/>
<rect x="492.05" y="244.40" width="33.85" height="4.00" fill="#a0ae92"/><rect x="510.96" y="244.40" width="14.94" height="1.50" fill="#952a96"/><rect x="499.72" y="245.90" width="26.18" height="2.50" fill="#952a96"/>
<rect x="492.05" y="248.40" width="33.85" height="1.90" fill="#00cf00"/><rect x="501.14" y="248.40" width="8.13" height="1.20" fill="#a0ae92"/>
<rect x="492.05" y="250.30" width="33.85" height="3.20" fill="#0a71bd"/><rect x="512.22" y="250.30" width="13.68" height="1.20" fill="#d26a00"/><rect x="507.56" y="251.50" width="18.34" height="1.00" fill="#d26a00"/><rect x="504.23" y="252.50" width="21.67" height="1.00" fill="#d26a00"/>
<rect x="492.05" y="253.50" width="33.85" height="7.50" fill="#0bbdf0"/><rect x="509.92" y="253.50" width="15.98" height="0.80" fill="#ffae00"/><rect x="500.72" y="254.30" width="7.77" height="1.20" fill="#d26a00"/><rect x="503.45" y="256.30" width="22.45" height="1.50" fill="#ffae00"/><rect x="500.84" y="257.20" width="12.41" height="0.60" fill="#a0ae92"/><rect x="507.62" y="257.80" width="18.28" height="1.50" fill="#ffae00"/><rect x="504.85" y="259.30" width="6.00" height="1.00" fill="#a0ae92"/><rect x="503.72" y="260.30" width="22.18" height="0.70" fill="#ffae00"/>
<rect x="492.05" y="261.00" width="33.85" height="2.00" fill="#0a71bd"/><rect x="505.45" y="261.00" width="20.45" height="1.20" fill="#a0ae92"/><rect x="510.36" y="262.20" width="15.54" height="0.80" fill="#a0ae92"/><rect x="508.21" y="262.68" width="8.16" height="0.32" fill="#0bbdf0"/>
<rect x="492.05" y="263.00" width="33.85" height="3.60" fill="#0a71bd"/><rect x="501.36" y="263.00" width="24.54" height="1.20" fill="#d26a00"/><rect x="496.28" y="263.72" width="9.60" height="0.48" fill="#ffae00"/><rect x="516.20" y="264.20" width="5.39" height="1.00" fill="#a0ae92"/><rect x="508.68" y="265.20" width="13.21" height="1.20" fill="#a0ae92"/>
<rect x="492.05" y="266.60" width="33.85" height="1.60" fill="#0bbdf0"/><rect x="503.23" y="266.60" width="22.67" height="1.60" fill="#ffae00"/>
<rect x="492.05" y="268.20" width="33.85" height="6.80" fill="#0a71bd"/><rect x="504.93" y="268.20" width="5.89" height="1.20" fill="#a0ae92"/><rect x="501.63" y="270.20" width="24.27" height="1.00" fill="#d26a00"/><rect x="504.80" y="271.20" width="21.10" height="1.50" fill="#d26a00"/><rect x="499.19" y="271.95" width="11.60" height="0.75" fill="#a0ae92"/><rect x="510.19" y="272.70" width="15.71" height="1.50" fill="#d26a00"/><rect x="516.54" y="274.20" width="9.36" height="0.80" fill="#d26a00"/>
<rect x="492.05" y="275.00" width="33.85" height="11.00" fill="#0bbdf0"/><rect x="514.32" y="275.00" width="11.58" height="1.50" fill="#ffae00"/><rect x="501.83" y="276.50" width="24.07" height="0.80" fill="#ffae00"/><rect x="497.04" y="276.90" width="10.46" height="0.40" fill="#a0ae92"/><rect x="513.25" y="277.30" width="12.65" height="1.00" fill="#ffae00"/><rect x="510.83" y="278.30" width="15.07" height="0.80" fill="#ffae00"/><rect x="505.85" y="278.70" width="8.01" height="0.40" fill="#a0ae92"/><rect x="500.95" y="279.10" width="24.95" height="2.00" fill="#ffae00"/><rect x="513.66" y="281.10" width="12.24" height="0.80" fill="#ffae00"/><rect x="509.47" y="281.58" width="8.11" height="0.32" fill="#d26a00"/><rect x="505.31" y="281.90" width="20.59" height="0.80" fill="#ffae00"/><rect x="511.28" y="282.70" width="14.62" height="1.50" fill="#ffae00"/><rect x="509.32" y="284.20" width="16.58" height="1.80" fill="#ffae00"/>
<rect x="492.05" y="286.00" width="33.85" height="6.80" fill="#0a71bd"/><rect x="506.06" y="286.00" width="19.84" height="1.00" fill="#d26a00"/><rect x="503.37" y="286.60" width="10.42" height="0.40" fill="#ffae00"/><rect x="502.27" y="287.00" width="23.63" height="1.50" fill="#d26a00"/><rect x="498.78" y="288.50" width="27.12" height="0.80" fill="#d26a00"/><rect x="506.56" y="289.30" width="19.34" height="1.00" fill="#d26a00"/><rect x="500.91" y="289.80" width="12.38" height="0.50" fill="#ffae00"/><rect x="508.73" y="290.30" width="13.95" height="1.20" fill="#ffae00"/><rect x="514.48" y="291.80" width="5.17" height="1.00" fill="#ffae00"/>
<rect x="492.05" y="292.80" width="33.85" height="2.20" fill="#a0ae92"/><rect x="509.40" y="292.80" width="8.32" height="0.80" fill="#ff5ec6"/><rect x="499.07" y="293.60" width="26.83" height="1.40" fill="#952a96"/>
<rect x="492.05" y="295.00" width="33.85" height="7.80" fill="#00cf00"/><rect x="504.87" y="295.00" width="21.03" height="1.20" fill="#ff5ec6"/><rect x="504.65" y="296.20" width="12.44" height="1.00" fill="#a0ae92"/><rect x="501.47" y="297.20" width="24.43" height="1.00" fill="#ff5ec6"/><rect x="498.52" y="297.80" width="10.16" height="0.40" fill="#952a96"/><rect x="510.67" y="298.20" width="15.23" height="1.00" fill="#ff5ec6"/><rect x="504.00" y="300.70" width="21.90" height="1.50" fill="#ff5ec6"/><rect x="507.39" y="302.20" width="18.51" height="0.60" fill="#ff5ec6"/>
<rect x="492.05" y="302.60" width="33.85" height="1.40" fill="#0a71bd"/>
<rect x="525.90" y="202.60" width="33.85" height="1.40" fill="#0a71bd"/>
<rect x="525.90" y="204.00" width="33.85" height="2.50" fill="#00cf00"/><rect x="536.28" y="204.00" width="23.47" height="1.50" fill="#ff5ec6"/><rect x="534.10" y="205.50" width="25.65" height="1.00" fill="#ff5ec6"/><rect x="529.34" y="206.00" width="7.85" height="0.50" fill="#a0ae92"/>
<rect x="525.90" y="206.50" width="33.85" height="6.50" fill="#0a71bd"/><rect x="532.52" y="206.50" width="27.23" height="1.00" fill="#d26a00"/><rect x="534.42" y="207.50" width="25.33" height="1.00" fill="#d26a00"/><rect x="535.49" y="208.50" width="24.26" height="2.00" fill="#d26a00"/><rect x="539.71" y="210.50" width="12.59" height="1.20" fill="#a0ae92"/><rect x="542.75" y="212.00" width="17.00" height="1.00" fill="#d26a00"/>
<rect x="525.90" y="213.00" width="33.85" height="2.00" fill="#a0ae92"/><rect x="544.39" y="213.00" width="15.36" height="2.00" fill="#952a96"/><rect x="539.12" y="214.20" width="8.84" height="0.80" fill="#ff5ec6"/>
<rect x="525.90" y="215.00" width="33.85" height="9.80" fill="#00cf00"/><rect x="540.03" y="215.00" width="13.57" height="1.00" fill="#a0ae92"/><rect x="529.94" y="216.00" width="29.81" height="2.00" fill="#ff5ec6"/><rect x="527.16" y="217.20" width="11.26" height="0.80" fill="#d26a00"/><rect x="537.09" y="218.00" width="22.66" height="1.00" fill="#ff5ec6"/><rect x="539.81" y="219.00" width="19.94" height="1.00" fill="#ff5ec6"/><rect x="545.15" y="220.00" width="14.60" height="1.50" fill="#ff5ec6"/><rect x="533.29" y="221.50" width="26.46" height="1.00" fill="#ff5ec6"/><rect x="529.90" y="222.50" width="29.85" height="0.80" fill="#ff5ec6"/><rect x="529.38" y="223.30" width="30.37" height="0.80" fill="#ff5ec6"/><rect x="535.77" y="224.10" width="23.98" height="0.70" fill="#ff5ec6"/>
<rect x="525.90" y="224.80" width="33.85" height="6.60" fill="#0a71bd"/><rect x="544.78" y="224.80" width="14.97" height="1.00" fill="#d26a00"/><rect x="539.19" y="225.40" width="8.12" height="0.40" fill="#ff5ec6"/><rect x="547.50" y="225.80" width="12.25" height="0.80" fill="#d26a00"/><rect x="535.38" y="226.60" width="4.64" height="0.80" fill="#ff5ec6"/><rect x="538.08" y="227.40" width="21.67" height="2.00" fill="#d26a00"/><rect x="536.93" y="229.40" width="22.82" height="2.00" fill="#d26a00"/>
<rect x="525.90" y="231.40" width="33.85" height="5.20" fill="#00cf00"/><rect x="537.42" y="231.40" width="22.33" height="1.50" fill="#ff5ec6"/><rect x="541.66" y="232.90" width="18.09" height="1.00" fill="#ff5ec6"/><rect x="537.47" y="233.50" width="11.01" height="0.40" fill="#a0ae92"/><rect x="538.76" y="233.90" width="9.44" height="1.00" fill="#a0ae92"/><rect x="537.05" y="234.90" width="22.70" height="1.70" fill="#ff5ec6"/><rect x="534.33" y="235.75" width="12.24" height="0.85" fill="#a0ae92"/>
<rect x="525.90" y="236.60" width="33.85" height="7.80" fill="#0a71bd"/><rect x="542.29" y="236.60" width="17.46" height="1.00" fill="#d26a00"/><rect x="536.44" y="237.60" width="23.31" height="1.50" fill="#d26a00"/><rect x="535.01" y="239.10" width="24.74" height="0.80" fill="#d26a00"/><rect x="544.91" y="239.90" width="4.54" height="1.20" fill="#a0ae92"/><rect x="537.31" y="241.40" width="22.44" height="1.20" fill="#d26a00"/><rect x="535.86" y="242.60" width="12.21" height="1.20" fill="#ff5ec6"/>
<rect x="525.90" y="244.40" width="33.85" height="4.00" fill="#a0ae92"/><rect x="534.50" y="244.40" width="25.25" height="1.00" fill="#952a96"/><rect x="535.40" y="245.40" width="8.11" height="1.20" fill="#ff5ec6"/><rect x="542.21" y="246.90" width="17.54" height="1.50" fill="#952a96"/>
<rect x="525.90" y="248.40" width="33.85" height="1.90" fill="#00cf00"/><rect x="543.18" y="248.40" width="16.57" height="1.00" fill="#ff5ec6"/><rect x="539.13" y="249.40" width="20.62" height="0.90" fill="#ff5ec6"/>
<rect x="525.90" y="250.30" width="33.85" height="3.20" fill="#0a71bd"/><rect x="547.06" y="250.30" width="12.69" height="0.80" fill="#d26a00"/><rect x="541.32" y="250.70" width="9.83" height="0.40" fill="#ffae00"/><rect x="544.13" y="251.10" width="15.62" height="0.80" fill="#d26a00"/><rect x="536.28" y="251.90" width="23.47" height="1.60" fill="#d26a00"/>
<rect x="525.90" y="253.50" width="33.85" height="7.50" fill="#0bbdf0"/><rect x="533.79" y="253.50" width="25.96" height="1.00" fill="#ffae00"/><rect x="528.09" y="254.00" width="12.68" height="0.50" fill="#d26a00"/><rect x="539.15" y="254.50" width="20.60" height="1.00" fill="#ffae00"/><rect x="541.93" y="255.50" width="17.82" height="0.80" fill="#ffae00"/><rect x="542.19" y="256.30" width="7.93" height="1.20" fill="#a0ae92"/><rect x="538.74" y="257.80" width="21.01" height="2.00" fill="#ffae00"/><rect x="533.57" y="258.80" width="8.48" height="1.00" fill="#d26a00"/><rect x="535.78" y="259.80" width="23.97" height="1.20" fill="#ffae00"/><rect x="531.82" y="260.40" width="9.84" height="0.60" fill="#d26a00"/>
<rect x="525.90" y="261.00" width="33.85" height="2.00" fill="#0a71bd"/><rect x="548.29" y="261.00" width="11.46" height="2.00" fill="#a0ae92"/><rect x="543.52" y="262.00" width="7.44" height="1.00" fill="#d26a00"/>
<rect x="525.90" y="263.00" width="33.85" height="3.60" fill="#0a71bd"/><rect x="543.14" y="263.00" width="11.42" height="1.00" fill="#ffae00"/><rect x="549.32" y="264.00" width="10.43" height="1.50" fill="#d26a00"/><rect x="534.65" y="265.50" width="25.10" height="1.10" fill="#d26a00"/>
<rect x="525.90" y="266.60" width="33.85" height="1.60" fill="#0bbdf0"/><rect x="543.26" y="266.60" width="16.49" height="1.60" fill="#ffae00"/>
<rect x="525.90" y="268.20" width="33.85" height="6.80" fill="#0a71bd"/><rect x="539.14" y="268.20" width="20.61" height="0.80" fill="#d26a00"/><rect x="539.87" y="269.00" width="11.71" height="0.80" fill="#ffae00"/><rect x="538.80" y="269.80" width="20.95" height="1.50" fill="#d26a00"/><rect x="536.24" y="271.30" width="23.51" height="1.20" fill="#d26a00"/><rect x="540.64" y="272.50" width="19.11" height="0.80" fill="#d26a00"/><rect x="545.64" y="273.30" width="14.11" height="1.70" fill="#d26a00"/>
<rect x="525.90" y="275.00" width="33.85" height="11.00" fill="#0bbdf0"/><rect x="538.71" y="275.00" width="21.04" height="1.50" fill="#ffae00"/><rect x="544.40" y="276.50" width="15.35" height="2.00" fill="#ffae00"/><rect x="538.35" y="278.50" width="21.40" height="1.20" fill="#ffae00"/><rect x="535.79" y="279.10" width="10.67" height="0.60" fill="#d26a00"/><rect x="543.00" y="279.70" width="16.75" height="2.00" fill="#ffae00"/><rect x="545.54" y="281.70" width="4.67" height="1.20" fill="#d26a00"/><rect x="544.00" y="283.70" width="15.75" height="2.30" fill="#ffae00"/>
<rect x="525.90" y="286.00" width="33.85" height="6.80" fill="#0a71bd"/><rect x="547.62" y="286.00" width="6.60" height="1.20" fill="#a0ae92"/><rect x="538.64" y="288.00" width="21.11" height="2.00" fill="#d26a00"/><rect x="533.82" y="289.00" width="8.71" height="1.00" fill="#ffae00"/><rect x="538.80" y="290.00" width="20.95" height="1.00" fill="#d26a00"/><rect x="544.05" y="291.00" width="15.70" height="1.00" fill="#d26a00"/><rect x="539.14" y="292.00" width="20.61" height="0.80" fill="#d26a00"/><rect x="537.05" y="292.40" width="11.20" height="0.40" fill="#ffae00"/>
<rect x="525.90" y="292.80" width="33.85" height="2.20" fill="#a0ae92"/><rect x="547.39" y="292.80" width="12.36" height="1.20" fill="#952a96"/><rect x="540.38" y="294.00" width="19.37" height="1.00" fill="#952a96"/>
<rect x="525.90" y="295.00" width="33.85" height="7.80" fill="#00cf00"/><rect x="543.60" y="295.00" width="16.15" height="1.20" fill="#ff5ec6"/><rect x="540.11" y="295.60" width="8.94" height="0.60" fill="#a0ae92"/><rect x="539.91" y="296.20" width="19.84" height="1.00" fill="#ff5ec6"/><rect x="534.10" y="296.70" width="10.69" height="0.50" fill="#d26a00"/><rect x="540.58" y="297.20" width="19.17" height="1.00" fill="#ff5ec6"/><rect x="536.94" y="297.80" width="10.72" height="0.40" fill="#a0ae92"/><rect x="529.76" y="298.20" width="29.99" height="1.20" fill="#ff5ec6"/><rect x="544.00" y="299.40" width="15.75" height="1.20" fill="#ff5ec6"/><rect x="540.56" y="300.00" width="8.85" height="0.60" fill="#a0ae92"/><rect x="531.87" y="300.60" width="27.88" height="0.80" fill="#ff5ec6"/><rect x="529.86" y="301.08" width="8.41" height="0.32" fill="#952a96"/>
<rect x="525.90" y="302.60" width="33.85" height="1.40" fill="#0a71bd"/>
<rect x="559.75" y="202.60" width="33.85" height="1.40" fill="#0a71bd"/>
<rect x="559.75" y="204.00" width="33.85" height="2.50" fill="#00cf00"/><rect x="574.38" y="204.00" width="19.22" height="2.50" fill="#ff5ec6"/>
<rect x="559.75" y="206.50" width="33.85" height="6.50" fill="#0a71bd"/><rect x="572.68" y="206.50" width="5.04" height="1.20" fill="#ffae00"/><rect x="579.31" y="208.50" width="14.29" height="0.80" fill="#d26a00"/><rect x="570.45" y="209.30" width="23.15" height="1.50" fill="#d26a00"/><rect x="567.28" y="210.05" width="11.83" height="0.75" fill="#ffae00"/><rect x="579.87" y="210.80" width="13.73" height="1.20" fill="#d26a00"/><rect x="573.33" y="212.00" width="20.27" height="1.00" fill="#d26a00"/>
<rect x="559.75" y="213.00" width="33.85" height="2.00" fill="#a0ae92"/><rect x="584.95" y="213.00" width="8.65" height="1.20" fill="#ff5ec6"/>
<rect x="559.75" y="215.00" width="33.85" height="9.80" fill="#00cf00"/><rect x="578.18" y="215.00" width="15.42" height="1.50" fill="#ff5ec6"/><rect x="566.56" y="216.50" width="27.04" height="1.50" fill="#ff5ec6"/><rect x="569.65" y="218.00" width="23.95" height="2.00" fill="#ff5ec6"/><rect x="572.49" y="220.00" width="10.35" height="1.20" fill="#d26a00"/><rect x="571.32" y="221.50" width="12.56" height="1.00" fill="#d26a00"/><rect x="577.82" y="222.50" width="8.21" height="1.00" fill="#a0ae92"/><rect x="576.34" y="223.50" width="17.26" height="1.30" fill="#ff5ec6"/>
<rect x="559.75" y="224.80" width="33.85" height="6.60" fill="#0a71bd"/><rect x="573.58" y="224.80" width="20.02" height="1.00" fill="#d26a00"/><rect x="583.68" y="225.80" width="9.92" height="1.00" fill="#d26a00"/><rect x="571.79" y="228.30" width="21.81" height="1.00" fill="#d26a00"/><rect x="582.99" y="229.30" width="10.61" height="2.10" fill="#d26a00"/>
<rect x="559.75" y="231.40" width="33.85" height="5.20" fill="#00cf00"/><rect x="580.69" y="231.40" width="12.91" height="0.80" fill="#ff5ec6"/><rect x="576.19" y="232.20" width="17.41" height="1.00" fill="#ff5ec6"/><rect x="579.12" y="233.20" width="14.48" height="0.80" fill="#ff5ec6"/><rect x="570.13" y="234.00" width="23.47" height="2.60" fill="#ff5ec6"/>
<rect x="559.75" y="236.60" width="33.85" height="7.80" fill="#0a71bd"/><rect x="572.00" y="236.60" width="11.22" height="1.20" fill="#ff5ec6"/><rect x="579.64" y="238.60" width="6.17" height="1.20" fill="#ff5ec6"/><rect x="575.70" y="239.80" width="12.34" height="1.00" fill="#a0ae92"/><rect x="572.67" y="243.30" width="20.93" height="1.10" fill="#d26a00"/><rect x="569.58" y="243.85" width="10.75" height="0.55" fill="#a0ae92"/>
<rect x="559.75" y="244.40" width="33.85" height="4.00" fill="#a0ae92"/><rect x="568.91" y="244.40" width="24.69" height="1.00" fill="#952a96"/><rect x="566.59" y="245.40" width="27.01" height="1.50" fill="#952a96"/><rect x="565.57" y="246.90" width="28.03" height="1.50" fill="#952a96"/>
<rect x="559.75" y="248.40" width="33.85" height="1.90" fill="#00cf00"/>
<rect x="559.75" y="250.30" width="33.85" height="3.20" fill="#0a71bd"/><rect x="574.21" y="250.30" width="19.39" height="1.20" fill="#d26a00"/><rect x="570.83" y="251.50" width="22.77" height="1.20" fill="#d26a00"/><rect x="571.89" y="252.70" width="21.71" height="0.80" fill="#d26a00"/>
<rect x="559.75" y="253.50" width="33.85" height="7.50" fill="#0bbdf0"/><rect x="581.16" y="253.50" width="12.44" height="2.00" fill="#ffae00"/><rect x="582.04" y="255.50" width="11.56" height="1.50" fill="#ffae00"/><rect x="568.80" y="257.00" width="24.80" height="1.50" fill="#ffae00"/><rect x="568.60" y="258.50" width="25.00" height="2.50" fill="#ffae00"/>
<rect x="559.75" y="261.00" width="33.85" height="2.00" fill="#0a71bd"/><rect x="575.06" y="261.00" width="18.54" height="1.00" fill="#a0ae92"/><rect x="574.97" y="262.00" width="12.03" height="1.00" fill="#d26a00"/>
<rect x="559.75" y="263.00" width="33.85" height="3.60" fill="#0a71bd"/><rect x="582.47" y="263.00" width="11.13" height="2.00" fill="#d26a00"/><rect x="580.83" y="265.00" width="12.77" height="1.60" fill="#d26a00"/>
<rect x="559.75" y="266.60" width="33.85" height="1.60" fill="#0bbdf0"/><rect x="575.27" y="266.60" width="18.33" height="1.60" fill="#ffae00"/><rect x="572.16" y="267.40" width="10.04" height="0.80" fill="#0a71bd"/>
<rect x="559.75" y="268.20" width="33.85" height="6.80" fill="#0a71bd"/><rect x="576.50" y="268.20" width="17.10" height="1.00" fill="#d26a00"/><rect x="573.37" y="270.00" width="20.23" height="1.00" fill="#d26a00"/><rect x="570.85" y="270.60" width="7.28" height="0.40" fill="#a0ae92"/><rect x="574.09" y="271.00" width="5.56" height="1.00" fill="#a0ae92"/><rect x="576.18" y="272.00" width="17.42" height="1.00" fill="#d26a00"/><rect x="570.38" y="272.50" width="7.57" height="0.50" fill="#a0ae92"/>
<rect x="559.75" y="275.00" width="33.85" height="11.00" fill="#0bbdf0"/><rect x="570.49" y="275.00" width="23.11" height="1.00" fill="#ffae00"/><rect x="564.64" y="275.50" width="9.58" height="0.50" fill="#a0ae92"/><rect x="580.74" y="276.00" width="12.86" height="1.00" fill="#ffae00"/><rect x="579.00" y="277.00" width="14.60" height="2.00" fill="#ffae00"/><rect x="584.28" y="280.00" width="9.32" height="2.00" fill="#ffae00"/><rect x="579.82" y="281.20" width="8.27" height="0.80" fill="#d26a00"/><rect x="576.76" y="282.00" width="9.68" height="1.20" fill="#d26a00"/><rect x="580.04" y="283.20" width="13.56" height="0.80" fill="#ffae00"/><rect x="574.63" y="284.00" width="18.97" height="1.20" fill="#ffae00"/><rect x="576.69" y="285.20" width="16.91" height="0.80" fill="#ffae00"/><rect x="572.32" y="285.60" width="9.68" height="0.40" fill="#a0ae92"/>
<rect x="559.75" y="286.00" width="33.85" height="6.80" fill="#0a71bd"/><rect x="572.69" y="286.00" width="20.91" height="1.50" fill="#d26a00"/><rect x="570.38" y="288.50" width="23.22" height="1.50" fill="#d26a00"/><rect x="581.88" y="290.00" width="11.72" height="1.50" fill="#d26a00"/><rect x="576.52" y="290.90" width="8.40" height="0.60" fill="#ffae00"/><rect x="582.25" y="291.50" width="11.35" height="1.20" fill="#a0ae92"/>
<rect x="559.75" y="292.80" width="33.85" height="2.20" fill="#a0ae92"/><rect x="571.62" y="292.80" width="21.98" height="1.50" fill="#952a96"/><rect x="566.39" y="293.55" width="8.50" height="0.75" fill="#ff5ec6"/><rect x="567.44" y="294.30" width="26.16" height="0.70" fill="#952a96"/>
<rect x="559.75" y="295.00" width="33.85" height="7.80" fill="#00cf00"/><rect x="574.71" y="295.00" width="18.89" height="1.20" fill="#ff5ec6"/><rect x="570.74" y="295.60" width="11.72" height="0.60" fill="#952a96"/><rect x="572.22" y="296.20" width="21.38" height="1.00" fill="#ff5ec6"/><rect x="569.61" y="296.80" width="11.78" height="0.40" fill="#952a96"/><rect x="569.46" y="297.20" width="24.14" height="1.00" fill="#ff5ec6"/><rect x="568.70" y="298.20" width="24.90" height="2.00" fill="#ff5ec6"/><rect x="578.18" y="300.20" width="15.42" height="1.50" fill="#ff5ec6"/><rect x="580.53" y="301.70" width="13.07" height="1.10" fill="#ff5ec6"/><rect x="575.62" y="302.25" width="12.26" height="0.55" fill="#952a96"/>
<rect x="559.75" y="302.60" width="33.85" height="1.40" fill="#0a71bd"/>
<rect x="593.60" y="202.60" width="33.85" height="1.40" fill="#0a71bd"/>
<rect x="593.60" y="204.00" width="33.85" height="2.50" fill="#00cf00"/><rect x="604.01" y="204.00" width="23.44" height="2.50" fill="#ff5ec6"/>
<rect x="593.60" y="206.50" width="33.85" height="6.50" fill="#0a71bd"/><rect x="613.82" y="206.50" width="5.81" height="1.00" fill="#a0ae92"/><rect x="611.89" y="207.50" width="15.56" height="1.00" fill="#d26a00"/><rect x="608.51" y="208.10" width="8.55" height="0.40" fill="#ffae00"/><rect x="605.38" y="208.50" width="22.07" height="1.50" fill="#d26a00"/><rect x="614.21" y="210.00" width="13.24" height="1.50" fill="#d26a00"/><rect x="604.54" y="211.50" width="22.91" height="1.50" fill="#d26a00"/>
<rect x="593.60" y="213.00" width="33.85" height="2.00" fill="#a0ae92"/><rect x="614.13" y="213.00" width="13.32" height="1.20" fill="#952a96"/><rect x="619.69" y="214.20" width="7.76" height="0.80" fill="#952a96"/>
<rect x="593.60" y="215.00" width="33.85" height="9.80" fill="#00cf00"/><rect x="607.01" y="215.00" width="20.44" height="1.50" fill="#ff5ec6"/><rect x="604.70" y="215.75" width="12.71" height="0.75" fill="#a0ae92"/><rect x="614.48" y="216.50" width="12.97" height="1.50" fill="#ff5ec6"/><rect x="602.41" y="218.00" width="25.04" height="1.50" fill="#ff5ec6"/><rect x="603.44" y="219.50" width="24.01" height="1.00" fill="#ff5ec6"/><rect x="610.44" y="220.50" width="17.01" height="1.00" fill="#ff5ec6"/><rect x="605.02" y="221.50" width="22.43" height="1.00" fill="#ff5ec6"/><rect x="605.80" y="222.50" width="21.65" height="2.30" fill="#ff5ec6"/>
<rect x="593.60" y="224.80" width="33.85" height="6.60" fill="#0a71bd"/><rect x="611.30" y="226.80" width="16.15" height="2.00" fill="#d26a00"/><rect x="609.24" y="228.00" width="11.74" height="0.80" fill="#a0ae92"/><rect x="618.82" y="228.80" width="8.63" height="0.80" fill="#ff5ec6"/><rect x="612.78" y="229.60" width="14.67" height="1.80" fill="#d26a00"/>
<rect x="593.60" y="231.40" width="33.85" height="5.20" fill="#00cf00"/><rect x="607.24" y="231.40" width="20.21" height="1.00" fill="#ff5ec6"/><rect x="615.10" y="232.40" width="12.35" height="1.50" fill="#ff5ec6"/><rect x="612.70" y="233.90" width="14.75" height="2.00" fill="#ff5ec6"/><rect x="599.65" y="235.90" width="27.80" height="0.70" fill="#ff5ec6"/>
<rect x="593.60" y="236.60" width="33.85" height="7.80" fill="#0a71bd"/><rect x="613.17" y="236.60" width="14.28" height="1.50" fill="#d26a00"/><rect x="610.59" y="237.35" width="9.22" height="0.75" fill="#a0ae92"/><rect x="615.51" y="238.10" width="11.94" height="1.20" fill="#d26a00"/><rect x="613.03" y="238.70" width="11.66" height="0.60" fill="#ff5ec6"/><rect x="608.34" y="239.30" width="19.11" height="1.20" fill="#d26a00"/><rect x="609.05" y="242.50" width="18.40" height="0.80" fill="#d26a00"/><rect x="607.17" y="243.30" width="9.07" height="1.10" fill="#a0ae92"/>
<rect x="593.60" y="244.40" width="33.85" height="4.00" fill="#a0ae92"/><rect x="604.40" y="244.40" width="23.05" height="0.80" fill="#952a96"/><rect x="605.35" y="245.20" width="22.10" height="1.50" fill="#952a96"/><rect x="608.26" y="246.70" width="19.19" height="1.00" fill="#952a96"/><rect x="609.82" y="247.70" width="17.63" height="0.70" fill="#952a96"/>
<rect x="593.60" y="248.40" width="33.85" height="1.90" fill="#00cf00"/>
<rect x="593.60" y="250.30" width="33.85" height="3.20" fill="#0a71bd"/><rect x="611.61" y="252.30" width="15.84" height="1.20" fill="#d26a00"/><rect x="608.70" y="252.90" width="11.93" height="0.60" fill="#a0ae92"/>
<rect x="593.60" y="253.50" width="33.85" height="7.50" fill="#0bbdf0"/><rect x="604.71" y="253.50" width="9.31" height="1.20" fill="#d26a00"/><rect x="610.75" y="255.50" width="16.70" height="0.80" fill="#ffae00"/><rect x="608.66" y="256.30" width="6.99" height="1.20" fill="#a0ae92"/><rect x="604.29" y="257.80" width="23.16" height="1.00" fill="#ffae00"/><rect x="611.67" y="259.80" width="9.01" height="1.20" fill="#a0ae92"/>
<rect x="593.60" y="261.00" width="33.85" height="2.00" fill="#0a71bd"/><rect x="608.82" y="261.00" width="18.63" height="0.80" fill="#a0ae92"/><rect x="605.18" y="261.80" width="22.27" height="1.20" fill="#a0ae92"/>
<rect x="593.60" y="263.00" width="33.85" height="3.60" fill="#0a71bd"/><rect x="611.04" y="263.00" width="16.41" height="1.20" fill="#d26a00"/><rect x="612.74" y="264.20" width="14.71" height="0.80" fill="#d26a00"/><rect x="609.85" y="264.60" width="9.40" height="0.40" fill="#a0ae92"/><rect x="607.38" y="265.00" width="8.84" height="0.80" fill="#ffae00"/><rect x="612.67" y="265.80" width="14.78" height="0.80" fill="#d26a00"/>
<rect x="593.60" y="266.60" width="33.85" height="1.60" fill="#0bbdf0"/><rect x="616.72" y="266.60" width="10.73" height="1.60" fill="#ffae00"/><rect x="612.33" y="267.56" width="9.19" height="0.64" fill="#0a71bd"/>
<rect x="593.60" y="268.20" width="33.85" height="6.80" fill="#0a71bd"/><rect x="613.73" y="269.20" width="13.72" height="1.00" fill="#d26a00"/><rect x="616.59" y="270.20" width="10.86" height="1.20" fill="#d26a00"/><rect x="608.02" y="271.40" width="19.43" height="2.00" fill="#d26a00"/>
<rect x="593.60" y="275.00" width="33.85" height="11.00" fill="#0bbdf0"/><rect x="612.09" y="276.50" width="15.36" height="1.20" fill="#ffae00"/><rect x="608.77" y="277.22" width="11.99" height="0.48" fill="#d26a00"/><rect x="605.04" y="277.70" width="22.41" height="1.00" fill="#ffae00"/><rect x="615.32" y="278.70" width="12.13" height="1.00" fill="#ffae00"/><rect x="610.77" y="279.30" width="12.56" height="0.40" fill="#a0ae92"/><rect x="613.96" y="279.70" width="13.49" height="0.80" fill="#ffae00"/><rect x="609.24" y="280.10" width="9.51" height="0.40" fill="#a0ae92"/><rect x="615.63" y="280.50" width="11.82" height="2.00" fill="#ffae00"/><rect x="615.21" y="282.50" width="12.24" height="2.00" fill="#ffae00"/><rect x="607.82" y="284.50" width="19.63" height="1.50" fill="#ffae00"/>
<rect x="593.60" y="286.00" width="33.85" height="6.80" fill="#0a71bd"/><rect x="616.14" y="286.80" width="11.31" height="2.00" fill="#d26a00"/><rect x="607.31" y="288.80" width="20.14" height="1.50" fill="#d26a00"/><rect x="616.75" y="290.30" width="10.70" height="1.50" fill="#d26a00"/><rect x="614.26" y="291.20" width="12.04" height="0.60" fill="#ffae00"/><rect x="608.96" y="291.80" width="18.49" height="1.00" fill="#d26a00"/>
<rect x="593.60" y="292.80" width="33.85" height="2.20" fill="#a0ae92"/><rect x="613.96" y="292.80" width="13.49" height="1.20" fill="#952a96"/><rect x="610.72" y="294.00" width="8.82" height="1.00" fill="#ff5ec6"/>
<rect x="593.60" y="295.00" width="33.85" height="7.80" fill="#00cf00"/><rect x="615.14" y="295.00" width="7.24" height="1.20" fill="#a0ae92"/><rect x="601.45" y="296.50" width="26.00" height="0.80" fill="#ff5ec6"/><rect x="608.64" y="297.30" width="9.74" height="1.20" fill="#952a96"/><rect x="611.72" y="298.80" width="15.73" height="2.00" fill="#ff5ec6"/><rect x="606.93" y="299.80" width="8.97" height="1.00" fill="#952a96"/><rect x="614.42" y="300.80" width="9.75" height="1.00" fill="#d26a00"/>
<rect x="593.60" y="302.60" width="33.85" height="1.40" fill="#0a71bd"/>
<rect x="627.45" y="202.60" width="33.85" height="1.40" fill="#0a71bd"/>
<rect x="627.45" y="204.00" width="33.85" height="2.50" fill="#00cf00"/><rect x="644.67" y="204.00" width="16.63" height="1.00" fill="#ff5ec6"/>
<rect x="627.45" y="206.50" width="33.85" height="6.50" fill="#0a71bd"/><rect x="639.59" y="206.50" width="21.71" height="1.20" fill="#d26a00"/><rect x="635.59" y="207.22" width="11.08" height="0.48" fill="#ff5ec6"/><rect x="649.43" y="207.70" width="11.87" height="1.00" fill="#d26a00"/><rect x="645.89" y="208.70" width="15.41" height="1.50" fill="#d26a00"/><rect x="642.72" y="210.20" width="18.58" height="2.00" fill="#d26a00"/><rect x="637.28" y="211.40" width="12.92" height="0.80" fill="#a0ae92"/><rect x="638.67" y="212.20" width="5.90" height="0.80" fill="#a0ae92"/>
<rect x="627.45" y="213.00" width="33.85" height="2.00" fill="#a0ae92"/><rect x="637.76" y="214.00" width="11.88" height="1.00" fill="#ff5ec6"/>
<rect x="627.45" y="215.00" width="33.85" height="9.80" fill="#00cf00"/><rect x="648.74" y="215.00" width="12.56" height="2.00" fill="#ff5ec6"/><rect x="640.28" y="217.00" width="21.02" height="1.00" fill="#ff5ec6"/><rect x="636.04" y="217.50" width="8.72" height="0.50" fill="#d26a00"/><rect x="638.83" y="218.00" width="22.47" height="1.00" fill="#ff5ec6"/><rect x="647.76" y="223.50" width="13.54" height="1.30" fill="#ff5ec6"/><rect x="642.02" y="224.15" width="7.33" height="0.65" fill="#d26a00"/>
<rect x="627.45" y="224.80" width="33.85" height="6.60" fill="#0a71bd"/><rect x="644.05" y="224.80" width="10.86" height="1.00" fill="#a0ae92"/><rect x="645.49" y="225.80" width="7.49" height="1.00" fill="#ff5ec6"/><rect x="646.91" y="226.80" width="14.39" height="1.00" fill="#d26a00"/><rect x="651.17" y="227.80" width="5.02" height="1.20" fill="#ff5ec6"/>
<rect x="627.45" y="231.40" width="33.85" height="5.20" fill="#00cf00"/><rect x="636.60" y="232.40" width="24.70" height="1.00" fill="#ff5ec6"/><rect x="634.72" y="233.40" width="26.58" height="1.50" fill="#ff5ec6"/>
<rect x="627.45" y="236.60" width="33.85" height="7.80" fill="#0a71bd"/><rect x="646.52" y="238.60" width="14.78" height="1.50" fill="#d26a00"/><rect x="641.01" y="239.35" width="12.55" height="0.75" fill="#ff5ec6"/><rect x="645.83" y="240.10" width="15.47" height="0.80" fill="#d26a00"/><rect x="639.94" y="240.58" width="10.35" height="0.32" fill="#ff5ec6"/><rect x="652.83" y="240.90" width="8.47" height="1.50" fill="#d26a00"/><rect x="652.43" y="242.40" width="8.87" height="1.00" fill="#a0ae92"/>
<rect x="627.45" y="244.40" width="33.85" height="4.00" fill="#a0ae92"/><rect x="644.20" y="244.40" width="17.10" height="2.00" fill="#952a96"/><rect x="651.12" y="246.40" width="10.18" height="2.00" fill="#952a96"/>
<rect x="627.45" y="248.40" width="33.85" height="1.90" fill="#00cf00"/><rect x="644.70" y="248.40" width="16.60" height="1.00" fill="#ff5ec6"/><rect x="640.95" y="249.40" width="20.35" height="0.90" fill="#ff5ec6"/>
<rect x="627.45" y="250.30" width="33.85" height="3.20" fill="#0a71bd"/><rect x="640.13" y="250.30" width="21.17" height="0.80" fill="#d26a00"/><rect x="634.30" y="250.78" width="9.23" height="0.32" fill="#a0ae92"/><rect x="643.54" y="252.10" width="17.76" height="1.40" fill="#d26a00"/><rect x="640.57" y="252.94" width="12.39" height="0.56" fill="#ffae00"/>
<rect x="627.45" y="253.50" width="33.85" height="7.50" fill="#0bbdf0"/><rect x="646.85" y="253.50" width="14.45" height="0.80" fill="#ffae00"/><rect x="648.97" y="254.30" width="12.33" height="1.50" fill="#ffae00"/><rect x="640.48" y="255.80" width="20.82" height="1.20" fill="#ffae00"/><rect x="653.49" y="257.00" width="7.81" height="1.20" fill="#ffae00"/><rect x="651.40" y="257.60" width="10.44" height="0.60" fill="#d26a00"/><rect x="643.05" y="258.20" width="18.25" height="1.00" fill="#ffae00"/><rect x="638.53" y="259.20" width="22.77" height="1.80" fill="#ffae00"/><rect x="634.51" y="260.28" width="11.11" height="0.72" fill="#a0ae92"/>
<rect x="627.45" y="261.00" width="33.85" height="2.00" fill="#0a71bd"/><rect x="646.31" y="261.00" width="14.99" height="1.20" fill="#a0ae92"/><rect x="651.33" y="262.20" width="9.97" height="0.80" fill="#0bbdf0"/>
<rect x="627.45" y="263.00" width="33.85" height="3.60" fill="#0a71bd"/><rect x="641.64" y="264.20" width="11.90" height="1.20" fill="#ffae00"/>
<rect x="627.45" y="266.60" width="33.85" height="1.60" fill="#0bbdf0"/><rect x="648.46" y="266.60" width="12.84" height="1.60" fill="#ffae00"/>
<rect x="627.45" y="268.20" width="33.85" height="6.80" fill="#0a71bd"/><rect x="645.74" y="270.20" width="15.56" height="0.80" fill="#d26a00"/><rect x="643.10" y="270.68" width="7.41" height="0.32" fill="#a0ae92"/><rect x="655.05" y="272.20" width="6.25" height="1.00" fill="#d26a00"/><rect x="652.51" y="272.80" width="8.16" height="0.40" fill="#ffae00"/><rect x="653.67" y="273.20" width="7.63" height="1.80" fill="#d26a00"/>
<rect x="627.45" y="275.00" width="33.85" height="11.00" fill="#0bbdf0"/><rect x="644.24" y="275.00" width="17.06" height="1.50" fill="#ffae00"/><rect x="641.96" y="275.90" width="12.63" height="0.60" fill="#d26a00"/><rect x="638.00" y="276.50" width="7.21" height="1.00" fill="#a0ae92"/><rect x="646.86" y="277.50" width="14.44" height="1.50" fill="#ffae00"/><rect x="651.54" y="279.00" width="9.76" height="1.50" fill="#ffae00"/><rect x="641.72" y="280.50" width="19.58" height="0.80" fill="#ffae00"/><rect x="638.40" y="280.98" width="7.96" height="0.32" fill="#d26a00"/><rect x="646.13" y="281.30" width="15.17" height="1.50" fill="#ffae00"/><rect x="648.15" y="282.80" width="13.15" height="1.50" fill="#ffae00"/><rect x="640.44" y="284.30" width="20.86" height="1.70" fill="#ffae00"/>
<rect x="627.45" y="286.00" width="33.85" height="6.80" fill="#0a71bd"/><rect x="650.51" y="286.00" width="10.79" height="1.50" fill="#d26a00"/><rect x="638.38" y="287.50" width="22.92" height="0.80" fill="#d26a00"/><rect x="637.94" y="288.30" width="23.36" height="2.00" fill="#d26a00"/><rect x="635.21" y="289.50" width="9.79" height="0.80" fill="#ffae00"/><rect x="654.05" y="290.30" width="7.25" height="0.80" fill="#d26a00"/><rect x="647.55" y="291.10" width="6.51" height="1.20" fill="#ffae00"/>
<rect x="627.45" y="292.80" width="33.85" height="2.20" fill="#a0ae92"/><rect x="643.64" y="292.80" width="17.66" height="1.50" fill="#952a96"/><rect x="645.05" y="294.30" width="8.60" height="0.70" fill="#ff5ec6"/>
<rect x="627.45" y="295.00" width="33.85" height="7.80" fill="#00cf00"/><rect x="650.06" y="296.00" width="11.24" height="1.20" fill="#ff5ec6"/><rect x="642.83" y="297.20" width="18.47" height="1.50" fill="#ff5ec6"/><rect x="641.22" y="298.70" width="9.55" height="1.00" fill="#952a96"/><rect x="650.26" y="299.70" width="11.04" height="1.20" fill="#ff5ec6"/><rect x="641.79" y="300.90" width="9.59" height="0.80" fill="#a0ae92"/><rect x="646.92" y="301.70" width="10.86" height="1.10" fill="#952a96"/>
<rect x="627.45" y="302.60" width="33.85" height="1.40" fill="#0a71bd"/>
<rect x="458.20" y="202.60" width="33.85" height="1.40" fill="#0a71bd"/>
<rect x="458.20" y="204.00" width="33.85" height="2.50" fill="#00cf00"/><rect x="469.41" y="204.00" width="22.64" height="2.50" fill="#ff5ec6"/><rect x="466.84" y="205.25" width="7.37" height="1.25" fill="#a0ae92"/>
<rect x="458.20" y="206.50" width="33.85" height="6.50" fill="#0a71bd"/><rect x="472.46" y="206.50" width="19.59" height="0.80" fill="#d26a00"/><rect x="468.87" y="206.98" width="10.50" height="0.32" fill="#a0ae92"/><rect x="480.25" y="207.30" width="11.80" height="0.80" fill="#d26a00"/><rect x="465.95" y="208.10" width="26.10" height="1.20" fill="#d26a00"/><rect x="460.59" y="208.82" width="8.74" height="0.48" fill="#ffae00"/><rect x="480.65" y="209.30" width="11.40" height="1.50" fill="#d26a00"/><rect x="483.23" y="210.80" width="8.82" height="1.20" fill="#ffae00"/><rect x="477.31" y="212.30" width="14.74" height="0.70" fill="#d26a00"/>
<rect x="458.20" y="213.00" width="33.85" height="2.00" fill="#a0ae92"/><rect x="468.65" y="213.00" width="8.76" height="1.00" fill="#ff5ec6"/><rect x="482.23" y="214.00" width="9.82" height="1.00" fill="#952a96"/><rect x="477.78" y="214.50" width="11.75" height="0.50" fill="#ff5ec6"/>
<rect x="458.20" y="215.00" width="33.85" height="9.80" fill="#00cf00"/><rect x="468.51" y="216.20" width="13.82" height="1.20" fill="#a0ae92"/><rect x="465.89" y="217.70" width="26.16" height="2.00" fill="#ff5ec6"/><rect x="479.34" y="219.70" width="10.69" height="1.20" fill="#a0ae92"/><rect x="479.95" y="221.70" width="12.10" height="1.20" fill="#d26a00"/><rect x="469.94" y="222.90" width="22.11" height="1.90" fill="#ff5ec6"/>
<rect x="458.20" y="224.80" width="33.85" height="6.60" fill="#0a71bd"/><rect x="470.95" y="224.80" width="21.10" height="1.00" fill="#d26a00"/><rect x="468.04" y="225.30" width="11.77" height="0.50" fill="#a0ae92"/><rect x="466.96" y="225.80" width="25.09" height="1.50" fill="#d26a00"/><rect x="462.20" y="226.55" width="9.80" height="0.75" fill="#ff5ec6"/><rect x="476.59" y="227.30" width="15.46" height="0.80" fill="#d26a00"/><rect x="465.89" y="228.10" width="26.16" height="1.00" fill="#d26a00"/><rect x="462.56" y="228.60" width="11.64" height="0.50" fill="#ff5ec6"/><rect x="481.75" y="229.10" width="10.30" height="1.00" fill="#d26a00"/><rect x="476.78" y="229.70" width="9.84" height="0.40" fill="#a0ae92"/><rect x="480.76" y="230.10" width="11.29" height="1.30" fill="#d26a00"/>
<rect x="458.20" y="231.40" width="33.85" height="5.20" fill="#00cf00"/><rect x="462.77" y="231.40" width="29.28" height="1.20" fill="#ff5ec6"/><rect x="456.97" y="232.00" width="10.16" height="0.60" fill="#a0ae92"/><rect x="465.23" y="232.60" width="26.82" height="1.50" fill="#ff5ec6"/><rect x="477.82" y="234.10" width="14.23" height="2.50" fill="#ff5ec6"/><rect x="472.77" y="235.35" width="11.11" height="1.25" fill="#a0ae92"/>
<rect x="458.20" y="236.60" width="33.85" height="1.40" fill="#0a71bd"/><rect x="476.58" y="236.60" width="8.20" height="1.20" fill="#ff5ec6"/>
<rect x="468.00" y="238.00" width="24.05" height="6.40" fill="#0a71bd"/><rect x="475.09" y="238.00" width="16.96" height="0.80" fill="#d26a00"/><rect x="475.02" y="238.80" width="17.03" height="0.80" fill="#d26a00"/><rect x="477.24" y="239.60" width="11.97" height="1.20" fill="#ff5ec6"/><rect x="474.74" y="241.60" width="13.76" height="0.80" fill="#ff5ec6"/><rect x="475.85" y="242.40" width="16.20" height="1.20" fill="#d26a00"/><rect x="476.05" y="243.60" width="16.00" height="0.80" fill="#d26a00"/>
<rect x="468.00" y="244.40" width="24.05" height="4.00" fill="#a0ae92"/><rect x="480.00" y="244.40" width="11.85" height="1.20" fill="#ff5ec6"/><rect x="479.42" y="245.60" width="12.63" height="1.00" fill="#952a96"/><rect x="472.65" y="246.60" width="19.40" height="1.80" fill="#952a96"/>
<rect x="468.00" y="248.40" width="24.05" height="1.90" fill="#00cf00"/><rect x="477.30" y="248.40" width="14.75" height="1.00" fill="#ff5ec6"/><rect x="472.83" y="248.90" width="11.38" height="0.50" fill="#a0ae92"/>
<rect x="468.00" y="250.30" width="24.05" height="3.20" fill="#0a71bd"/><rect x="485.15" y="250.30" width="6.90" height="1.20" fill="#ffae00"/><rect x="475.47" y="252.30" width="16.58" height="1.20" fill="#d26a00"/>
<rect x="468.00" y="253.50" width="24.05" height="7.50" fill="#0bbdf0"/><rect x="481.94" y="253.50" width="10.11" height="1.50" fill="#ffae00"/><rect x="482.57" y="255.00" width="9.48" height="1.00" fill="#ffae00"/><rect x="481.02" y="256.00" width="11.03" height="1.20" fill="#ffae00"/><rect x="478.93" y="256.60" width="8.27" height="0.60" fill="#d26a00"/><rect x="482.34" y="257.20" width="9.71" height="2.00" fill="#ffae00"/><rect x="479.67" y="259.20" width="12.38" height="1.20" fill="#ffae00"/><rect x="484.67" y="260.40" width="4.75" height="0.60" fill="#d26a00"/>
<rect x="468.00" y="261.00" width="24.05" height="2.00" fill="#0a71bd"/><rect x="482.72" y="261.00" width="9.33" height="1.00" fill="#a0ae92"/>
<rect x="468.00" y="263.00" width="24.05" height="1.00" fill="#0a71bd"/><rect x="481.87" y="263.00" width="10.18" height="1.00" fill="#d26a00"/><rect x="478.30" y="263.50" width="10.38" height="0.50" fill="#ffae00"/>
<rect x="458.20" y="264.00" width="33.85" height="2.60" fill="#0a71bd"/><rect x="479.63" y="264.00" width="12.42" height="2.00" fill="#d26a00"/><rect x="481.28" y="266.00" width="10.77" height="0.60" fill="#d26a00"/>
<rect x="458.20" y="266.60" width="33.85" height="1.60" fill="#0bbdf0"/><rect x="467.67" y="266.60" width="9.83" height="1.20" fill="#0a71bd"/>
<rect x="458.20" y="268.20" width="33.85" height="6.80" fill="#0a71bd"/><rect x="477.70" y="268.20" width="14.35" height="2.00" fill="#d26a00"/><rect x="474.70" y="269.20" width="10.47" height="1.00" fill="#ffae00"/><rect x="473.56" y="270.20" width="18.49" height="1.50" fill="#d26a00"/><rect x="469.22" y="271.10" width="11.52" height="0.60" fill="#a0ae92"/><rect x="471.31" y="271.70" width="9.67" height="1.20" fill="#a0ae92"/>
<rect x="458.20" y="275.00" width="33.85" height="11.00" fill="#0bbdf0"/><rect x="475.89" y="275.00" width="16.16" height="1.00" fill="#ffae00"/><rect x="480.65" y="276.00" width="11.40" height="1.50" fill="#ffae00"/><rect x="475.56" y="277.50" width="16.49" height="1.50" fill="#ffae00"/><rect x="472.75" y="279.00" width="19.30" height="1.50" fill="#ffae00"/><rect x="470.54" y="279.75" width="9.60" height="0.75" fill="#d26a00"/><rect x="477.02" y="280.50" width="15.03" height="0.80" fill="#ffae00"/><rect x="477.25" y="281.30" width="14.80" height="2.00" fill="#ffae00"/><rect x="473.63" y="282.30" width="9.39" height="1.00" fill="#a0ae92"/><rect x="480.08" y="283.30" width="11.97" height="2.00" fill="#ffae00"/><rect x="465.74" y="285.30" width="26.31" height="0.70" fill="#ffae00"/>
<rect x="458.20" y="286.00" width="33.85" height="6.80" fill="#0a71bd"/><rect x="471.14" y="286.00" width="8.89" height="1.20" fill="#a0ae92"/><rect x="476.23" y="287.50" width="15.82" height="1.50" fill="#d26a00"/><rect x="476.88" y="289.00" width="15.17" height="1.00" fill="#d26a00"/><rect x="480.98" y="290.00" width="11.01" height="1.00" fill="#a0ae92"/><rect x="478.72" y="291.00" width="13.33" height="0.80" fill="#d26a00"/><rect x="471.05" y="291.80" width="21.00" height="1.00" fill="#d26a00"/>
<rect x="468.00" y="292.80" width="24.05" height="2.20" fill="#a0ae92"/><rect x="474.62" y="292.80" width="17.43" height="1.50" fill="#952a96"/><rect x="476.12" y="294.30" width="5.82" height="0.70" fill="#ff5ec6"/>
<rect x="468.00" y="295.00" width="24.05" height="7.80" fill="#00cf00"/><rect x="472.47" y="295.00" width="19.58" height="1.50" fill="#ff5ec6"/><rect x="479.66" y="296.50" width="12.39" height="1.50" fill="#ff5ec6"/><rect x="474.79" y="298.00" width="17.26" height="2.00" fill="#ff5ec6"/><rect x="469.80" y="299.20" width="12.10" height="0.80" fill="#952a96"/><rect x="485.33" y="300.00" width="4.24" height="1.20" fill="#952a96"/><rect x="474.65" y="302.00" width="17.40" height="0.80" fill="#ff5ec6"/>
<rect x="468.00" y="302.60" width="24.05" height="1.40" fill="#0a71bd"/>
<rect x="597.00" y="275.20" width="30.00" height="4.50" fill="#ffae00"/>
<rect x="617.60" y="253.20" width="9.90" height="5.80" fill="#ffae00"/>
<rect x="575.00" y="253.20" width="18.60" height="6.10" fill="#ffae00"/><rect x="591.35" y="253.20" width="2.25" height="0.80" fill="#0bbdf0"/><rect x="591.49" y="254.00" width="2.11" height="1.00" fill="#0bbdf0"/><rect x="591.11" y="256.20" width="2.49" height="1.00" fill="#0bbdf0"/><rect x="591.82" y="258.00" width="1.78" height="1.30" fill="#0bbdf0"/>
<rect x="541.00" y="296.50" width="18.70" height="5.00" fill="#ff5ec6"/>
<rect x="537.50" y="253.50" width="21.00" height="6.00" fill="#ffae00"/>
<rect x="505.00" y="263.50" width="21.00" height="8.50" fill="#d26a00"/><rect x="522.90" y="263.50" width="3.10" height="2.00" fill="#ffae00"/><rect x="524.21" y="265.50" width="1.79" height="1.00" fill="#ffae00"/><rect x="523.62" y="267.30" width="2.38" height="1.00" fill="#ffae00"/><rect x="523.82" y="268.30" width="2.18" height="2.00" fill="#ffae00"/><rect x="523.90" y="271.30" width="2.10" height="0.70" fill="#ffae00"/>
<polygon points="395,213.5 395,211.8 412,209 424.35,208.6 424.35,213.5" fill="#0a71bd"/>
<rect x="408.00" y="210.80" width="16.35" height="2.40" fill="#0a71bd"/>
<rect x="391.00" y="213.50" width="33.35" height="1.90" fill="#a0ae92"/><rect x="413.77" y="213.50" width="10.58" height="1.90" fill="#952a96"/>
<rect x="391.00" y="215.40" width="33.35" height="10.60" fill="#00cf00"/>
<rect x="391.00" y="217.00" width="33.35" height="7.60" fill="#00cf00"/><rect x="400.04" y="217.00" width="24.31" height="1.50" fill="#ff5ec6"/><rect x="404.11" y="218.50" width="20.24" height="1.20" fill="#ff5ec6"/><rect x="398.51" y="219.22" width="9.78" height="0.48" fill="#a0ae92"/><rect x="407.74" y="219.70" width="16.61" height="1.50" fill="#ff5ec6"/><rect x="404.40" y="221.20" width="19.95" height="2.00" fill="#ff5ec6"/><rect x="405.74" y="223.20" width="18.61" height="1.40" fill="#ff5ec6"/>
<polygon points="391,226 424.35,226 424.35,232.5 410,231 391,227" fill="#0a71bd"/>
<rect x="410.00" y="228.00" width="14.35" height="1.20" fill="#0a71bd"/><rect x="417.24" y="228.00" width="7.11" height="1.20" fill="#d26a00"/>
<polygon points="424.35,208.4 440,206.8 446,203.2 458.2,202.6 458.2,213.4 424.35,213.4" fill="#0a71bd"/>
<rect x="446.00" y="203.40" width="12.20" height="3.20" fill="#00cf00"/><rect x="457.19" y="203.40" width="1.01" height="1.00" fill="#0a71bd"/><rect x="456.26" y="204.40" width="1.94" height="1.50" fill="#0a71bd"/><rect x="456.85" y="205.90" width="1.35" height="0.70" fill="#0a71bd"/>
<rect x="424.35" y="207.60" width="33.85" height="5.40" fill="#0a71bd"/><rect x="438.63" y="207.60" width="11.26" height="1.00" fill="#a0ae92"/><rect x="435.22" y="208.60" width="22.98" height="1.50" fill="#d26a00"/><rect x="429.28" y="209.35" width="10.87" height="0.75" fill="#a0ae92"/><rect x="447.94" y="210.10" width="10.26" height="2.00" fill="#d26a00"/><rect x="445.76" y="211.30" width="12.61" height="0.80" fill="#a0ae92"/><rect x="448.97" y="212.10" width="9.23" height="0.90" fill="#d26a00"/>
<rect x="424.35" y="213.00" width="33.85" height="2.00" fill="#a0ae92"/><rect x="446.11" y="214.20" width="12.09" height="0.80" fill="#952a96"/>
<rect x="424.35" y="215.00" width="33.85" height="9.80" fill="#00cf00"/>
<rect x="424.35" y="216.00" width="33.85" height="8.20" fill="#00cf00"/><rect x="430.18" y="216.00" width="28.02" height="1.50" fill="#ff5ec6"/><rect x="435.50" y="217.50" width="22.70" height="1.50" fill="#ff5ec6"/><rect x="432.01" y="218.25" width="12.90" height="0.75" fill="#a0ae92"/><rect x="439.68" y="219.00" width="18.52" height="1.00" fill="#ff5ec6"/><rect x="435.18" y="220.00" width="23.02" height="1.50" fill="#ff5ec6"/><rect x="436.47" y="221.50" width="21.73" height="2.00" fill="#ff5ec6"/><rect x="430.90" y="223.50" width="27.30" height="0.70" fill="#ff5ec6"/>
<rect x="424.35" y="224.80" width="33.85" height="6.60" fill="#0a71bd"/><rect x="440.60" y="224.80" width="17.60" height="0.80" fill="#d26a00"/><rect x="435.56" y="225.20" width="11.47" height="0.40" fill="#ff5ec6"/><rect x="445.31" y="228.10" width="12.89" height="1.00" fill="#d26a00"/><rect x="447.30" y="230.10" width="10.90" height="1.30" fill="#d26a00"/><rect x="444.38" y="230.88" width="10.56" height="0.52" fill="#ff5ec6"/>
<rect x="425.00" y="231.40" width="33.20" height="5.20" fill="#00cf00"/><rect x="433.50" y="231.40" width="24.70" height="1.00" fill="#ff5ec6"/><rect x="429.36" y="232.00" width="8.01" height="0.40" fill="#a0ae92"/><rect x="437.92" y="232.40" width="20.28" height="1.20" fill="#ff5ec6"/><rect x="439.51" y="233.60" width="18.69" height="0.80" fill="#ff5ec6"/><rect x="433.77" y="234.08" width="11.84" height="0.32" fill="#a0ae92"/>
<polygon points="425,236.6 458.2,236.6 458.2,239.2 432,238.4" fill="#0a71bd"/>
<rect x="432.00" y="245.20" width="26.20" height="6.80" fill="#0bbdf0"/><rect x="450.86" y="245.20" width="7.34" height="1.00" fill="#ffae00"/><rect x="449.03" y="246.20" width="9.17" height="1.00" fill="#ffae00"/><rect x="442.44" y="249.00" width="15.76" height="0.80" fill="#ffae00"/><rect x="448.16" y="250.80" width="10.04" height="1.20" fill="#ffae00"/>
<rect x="459.6" y="248.5" width="2.3" height="15.5" fill="#0bbdf0"/>
<rect x="366.0" y="273.8" width="24.50" height="1.8" fill="#0a71bd"/>
<rect x="366.00" y="275.60" width="24.50" height="10.70" fill="#0bbdf0"/><rect x="370.38" y="275.60" width="20.12" height="1.50" fill="#ffae00"/><rect x="371.18" y="277.10" width="19.32" height="2.00" fill="#ffae00"/><rect x="366.48" y="278.10" width="10.54" height="1.00" fill="#a0ae92"/><rect x="371.28" y="279.10" width="19.22" height="1.50" fill="#ffae00"/><rect x="371.66" y="280.60" width="18.84" height="1.00" fill="#ffae00"/><rect x="370.88" y="281.60" width="19.62" height="1.00" fill="#ffae00"/><rect x="367.77" y="282.10" width="10.77" height="0.50" fill="#a0ae92"/><rect x="374.47" y="282.60" width="8.48" height="1.00" fill="#a0ae92"/><rect x="368.60" y="283.60" width="21.90" height="2.00" fill="#ffae00"/><rect x="364.37" y="284.60" width="8.19" height="1.00" fill="#a0ae92"/><rect x="369.01" y="285.60" width="21.49" height="0.70" fill="#ffae00"/>
<polygon points="390.5,275.6 390.5,274 410,272 424.35,269.6 424.35,275.6" fill="#0a71bd"/>
<rect x="410.00" y="270.60" width="14.35" height="2.00" fill="#0a71bd"/><rect x="415.88" y="270.60" width="8.47" height="2.00" fill="#d26a00"/>
<rect x="390.50" y="275.60" width="33.85" height="10.70" fill="#0bbdf0"/><rect x="406.26" y="275.60" width="13.19" height="1.20" fill="#a0ae92"/><rect x="407.81" y="277.10" width="16.54" height="2.00" fill="#ffae00"/><rect x="400.95" y="279.10" width="23.40" height="1.50" fill="#ffae00"/><rect x="408.08" y="280.60" width="10.19" height="1.00" fill="#a0ae92"/><rect x="401.09" y="281.60" width="9.99" height="1.20" fill="#a0ae92"/><rect x="402.58" y="283.60" width="21.77" height="1.50" fill="#ffae00"/><rect x="400.35" y="284.35" width="12.81" height="0.75" fill="#a0ae92"/>
<polygon points="405,286.3 424.35,286.3 424.35,292.2 408,289" fill="#0a71bd"/>
<rect x="410.00" y="287.20" width="14.35" height="1.40" fill="#0a71bd"/><rect x="419.04" y="287.20" width="5.31" height="1.40" fill="#d26a00"/>
<polygon points="424.35,275.6 424.35,269.6 440,266 458.2,263.8 458.2,275.6" fill="#0a71bd"/>
<rect x="437.00" y="266.20" width="21.20" height="9.40" fill="#0a71bd"/><rect x="441.92" y="266.20" width="16.28" height="1.50" fill="#d26a00"/><rect x="443.56" y="267.70" width="14.64" height="0.80" fill="#d26a00"/><rect x="439.43" y="268.50" width="18.77" height="0.80" fill="#d26a00"/><rect x="434.63" y="268.98" width="7.56" height="0.32" fill="#ffae00"/><rect x="439.08" y="269.30" width="19.12" height="2.00" fill="#d26a00"/><rect x="441.67" y="271.30" width="16.53" height="1.50" fill="#d26a00"/><rect x="440.83" y="273.80" width="17.37" height="1.80" fill="#d26a00"/>
<rect x="424.35" y="275.60" width="33.85" height="10.70" fill="#0bbdf0"/><rect x="436.39" y="275.60" width="8.41" height="1.00" fill="#a0ae92"/><rect x="439.61" y="276.60" width="18.59" height="2.00" fill="#ffae00"/><rect x="438.55" y="278.60" width="19.65" height="1.50" fill="#ffae00"/><rect x="434.06" y="280.10" width="10.08" height="1.00" fill="#a0ae92"/><rect x="436.16" y="283.50" width="22.04" height="1.50" fill="#ffae00"/><rect x="431.42" y="285.00" width="26.78" height="1.30" fill="#ffae00"/>
<rect x="424.35" y="286.30" width="33.85" height="6.10" fill="#0a71bd"/><rect x="445.98" y="286.30" width="12.22" height="1.50" fill="#d26a00"/><rect x="443.06" y="287.05" width="7.59" height="0.75" fill="#a0ae92"/><rect x="439.50" y="287.80" width="18.70" height="1.00" fill="#d26a00"/><rect x="447.80" y="288.80" width="8.83" height="1.00" fill="#a0ae92"/><rect x="436.42" y="289.80" width="21.78" height="1.00" fill="#d26a00"/><rect x="445.93" y="290.80" width="12.27" height="1.60" fill="#d26a00"/><rect x="443.73" y="291.76" width="10.63" height="0.64" fill="#a0ae92"/>
</g>
<text x="363.3" y="206.55174999999997" font-size="10.4" text-anchor="end" fill="#1e1e1e" font-weight="normal" textLength="15.3" lengthAdjust="spacingAndGlyphs" >200</text>
<text x="363.3" y="231.72674999999998" font-size="10.4" text-anchor="end" fill="#1e1e1e" font-weight="normal" textLength="15.3" lengthAdjust="spacingAndGlyphs" >150</text>
<text x="363.3" y="256.90175" font-size="10.4" text-anchor="end" fill="#1e1e1e" font-weight="normal" textLength="15.3" lengthAdjust="spacingAndGlyphs" >100</text>
<text x="363.3" y="282.07675" font-size="10.4" text-anchor="end" fill="#1e1e1e" font-weight="normal" textLength="10.2" lengthAdjust="spacingAndGlyphs" >50</text>
<text x="363.3" y="306.74825" font-size="10.4" text-anchor="end" fill="#1e1e1e" font-weight="normal" >1</text>
<path d="M365.80,202.85 h1.8 M365.80,228.03 h1.8 M365.80,253.20 h1.8 M365.80,278.38 h1.8 M365.80,303.05 h1.8" stroke="#bbb" stroke-width="0.8"/>
<text x="433.875" y="315.6" font-size="10.4" text-anchor="middle" fill="#1e1e1e" font-weight="normal" textLength="13" lengthAdjust="spacingAndGlyphs" >0.5</text>
<text x="501.75" y="315.6" font-size="10.4" text-anchor="middle" fill="#1e1e1e" font-weight="normal" >1</text>
<text x="569.625" y="315.6" font-size="10.4" text-anchor="middle" fill="#1e1e1e" font-weight="normal" textLength="13" lengthAdjust="spacingAndGlyphs" >1.5</text>
<text x="637.5" y="315.6" font-size="10.4" text-anchor="middle" fill="#1e1e1e" font-weight="normal" >2</text>
<text x="477.5" y="327.8" font-size="10" text-anchor="start" fill="#1a1a1a" font-weight="normal" textLength="48" lengthAdjust="spacingAndGlyphs" stroke="#1a1a1a" stroke-width="0.25">Time step</text>
<text x="0" y="0" font-size="10.3" fill="#1a1a1a" stroke="#1a1a1a" stroke-width="0.25" textLength="73.5" lengthAdjust="spacingAndGlyphs" transform="translate(345.4,290.2) rotate(-90)">Position in clay</text>
<text x="615.7" y="331.8" font-size="9.6" text-anchor="start" fill="#333" font-weight="normal" >×</text>
<text x="623.6" y="332.2" font-size="10.6" text-anchor="start" fill="#1e1e1e" font-weight="normal" textLength="9.4" lengthAdjust="spacingAndGlyphs" >10</text>
<text x="633.2" y="327.0" font-size="8.6" text-anchor="start" fill="#1e1e1e" font-weight="normal" >4</text>
<rect x="21.7" y="342" width="14" height="14.6" fill="#fff" stroke="#111" stroke-width="1.4"/>
<rect x="21.5" y="369.4" width="15" height="15.2" fill="#262626"/>
<text x="42.6" y="352.8" font-size="10" text-anchor="start" fill="#111" font-weight="normal" textLength="31.5" lengthAdjust="spacingAndGlyphs" stroke="#111" stroke-width="0.2">Empty</text>
<text x="40" y="373.7" font-size="10" text-anchor="start" fill="#111" font-weight="normal" textLength="44.5" lengthAdjust="spacingAndGlyphs" stroke="#111" stroke-width="0.2">ssRNA in</text>
<text x="45" y="387.6" font-size="10" text-anchor="start" fill="#111" font-weight="normal" textLength="34.5" lengthAdjust="spacingAndGlyphs" stroke="#111" stroke-width="0.2">comp.I</text>
<rect x="103" y="347" width="15" height="15.4" fill="#4dbdec"/>
<text x="124.5" y="358.8" font-size="10.5" text-anchor="start" fill="#111" font-weight="normal" stroke="#111" stroke-width="0.2">O</text>
<rect x="164.2" y="347" width="15" height="15.4" fill="#0070be"/>
<text x="185.7" y="358.8" font-size="10.5" text-anchor="start" fill="#111" font-weight="normal" stroke="#111" stroke-width="0.2">O</text>
<text x="193.7" y="362" font-size="7.8" text-anchor="start" fill="#111" font-weight="normal" textLength="13.8" lengthAdjust="spacingAndGlyphs" >new</text>
<rect x="242.8" y="347" width="15" height="15.4" fill="#63d014"/>
<text x="264.3" y="358.8" font-size="10.5" text-anchor="start" fill="#111" font-weight="normal" stroke="#111" stroke-width="0.2">C</text>
<rect x="305.3" y="347" width="15" height="15.4" fill="#8c9b7e"/>
<text x="326.8" y="358.8" font-size="10.5" text-anchor="start" fill="#111" font-weight="normal" stroke="#111" stroke-width="0.2">C</text>
<text x="334.8" y="362" font-size="7.8" text-anchor="start" fill="#111" font-weight="normal" textLength="13.8" lengthAdjust="spacingAndGlyphs" >new</text>
<rect x="383.3" y="347" width="15" height="15.4" fill="#ecb124"/>
<text x="404.8" y="358.8" font-size="10.5" text-anchor="start" fill="#111" font-weight="normal" stroke="#111" stroke-width="0.2">C</text>
<rect x="448" y="347" width="15" height="15.4" fill="#b0611a"/>
<text x="469.5" y="358.8" font-size="10.5" text-anchor="start" fill="#111" font-weight="normal" stroke="#111" stroke-width="0.2">C</text>
<text x="477.5" y="362" font-size="7.8" text-anchor="start" fill="#111" font-weight="normal" textLength="13.8" lengthAdjust="spacingAndGlyphs" >new</text>
<rect x="522.1" y="347" width="15" height="15.4" fill="#fb5cc0"/>
<text x="543.6" y="358.8" font-size="10.5" text-anchor="start" fill="#111" font-weight="normal" stroke="#111" stroke-width="0.2">R</text>
<rect x="587" y="347" width="15" height="15.4" fill="#7c2c8c"/>
<text x="608.5" y="358.8" font-size="10.5" text-anchor="start" fill="#111" font-weight="normal" stroke="#111" stroke-width="0.2">R</text>
<text x="616.5" y="362" font-size="7.8" text-anchor="start" fill="#111" font-weight="normal" textLength="13.8" lengthAdjust="spacingAndGlyphs" >new</text>
<path d="M98.8,371.5 L98.8,375 Q98.8,376 99.8,376 L227.10000000000002,376 Q228.3,376 228.3,379.5 Q228.3,376 229.5,376 L357.1,376 Q358.1,376 358.1,375 L358.1,371.5" fill="none" stroke="#222" stroke-width="1"/>
<path d="M372.8,371.5 L372.8,375 Q372.8,376 373.8,376 L503.1,376 Q504.3,376 504.3,379.5 Q504.3,376 505.5,376 L635.4,376 Q636.4,376 636.4,375 L636.4,371.5" fill="none" stroke="#222" stroke-width="1"/>
<text x="191.5" y="395.5" font-size="10" text-anchor="start" fill="#111" font-weight="normal" textLength="78" lengthAdjust="spacingAndGlyphs" stroke="#111" stroke-width="0.2">Level 0, comp.II</text>
<text x="468.5" y="395" font-size="10" text-anchor="start" fill="#111" font-weight="normal" textLength="77" lengthAdjust="spacingAndGlyphs" stroke="#111" stroke-width="0.2">Level 1, comp II</text>
</svg>
</body></html>
